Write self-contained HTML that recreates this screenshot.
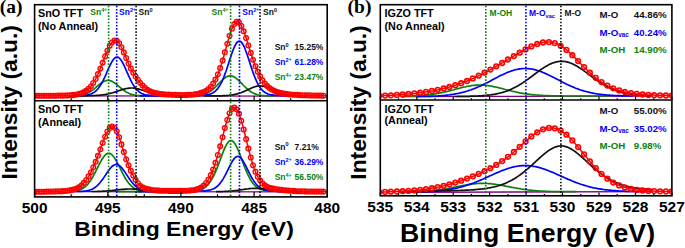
<!DOCTYPE html>
<html><head><meta charset="utf-8"><style>
html,body{margin:0;padding:0;background:#fff;}
body{width:685px;height:248px;overflow:hidden;}
svg{display:block;}
text{font-family:"Liberation Sans",sans-serif;font-weight:bold;}
</style></head><body>
<svg width="685" height="248" viewBox="0 0 685 248">
<clipPath id="ca1"><rect x="34.6" y="4.7" width="292.6" height="96.1"/></clipPath>
<g clip-path="url(#ca1)">
<line x1="72" y1="95.9" x2="302" y2="96.2" stroke="#800080" stroke-width="1.3"/>
<polyline points="72.7,95.8 73.7,95.7 74.7,95.7 75.7,95.6 76.7,95.6 77.7,95.5 78.7,95.4 79.7,95.3 80.7,95.1 81.7,94.9 82.7,94.7 83.7,94.5 84.7,94.2 85.7,93.8 86.7,93.4 87.7,93 88.7,92.5 89.7,91.9 90.7,91.3 91.7,90.7 92.7,89.9 93.7,89.2 94.7,88.4 95.7,87.6 96.7,86.7 97.7,85.9 98.7,85 99.7,84.2 100.7,83.4 101.7,82.7 102.8,82.1 103.8,81.5 104.8,81 105.8,80.7 106.8,80.5 107.8,80.4 108.8,80.4 109.8,80.6 110.8,80.9 111.8,81.3 112.8,81.8 113.8,82.4 114.8,83.1 115.8,83.8 116.8,84.6 117.8,85.5 118.8,86.3 119.8,87.2 120.8,88 121.8,88.8 122.8,89.6 123.8,90.4 124.8,91 125.8,91.7 126.8,92.3 127.8,92.8 128.8,93.3 129.8,93.7 130.8,94.1 131.8,94.4 132.8,94.6 133.8,94.9 134.8,95.1 135.8,95.2 136.8,95.4 137.8,95.5 138.8,95.6 139.8,95.7 140.8,95.7 141.8,95.8 142.8,95.8 143.8,95.8 144.8,95.9 145.8,95.9 146.8,95.9" fill="none" stroke="#0a820a" stroke-width="1.7"/>
<polyline points="185.9,96 186.9,95.9 187.9,95.9 188.9,95.9 189.9,95.9 190.9,95.9 191.9,95.9 193,95.8 194,95.8 195,95.7 196,95.7 197,95.6 198,95.5 199,95.4 200,95.2 201,95.1 202,94.9 203,94.6 204,94.3 205,94 206,93.6 207,93.2 208,92.7 209,92.1 210,91.5 211,90.8 212,90.1 213,89.3 214,88.4 215,87.5 216,86.5 217,85.5 218,84.4 219,83.4 220,82.4 221,81.3 222,80.4 223,79.4 224,78.6 225,77.8 226,77.1 227,76.6 228,76.2 229,75.9 230,75.8 231,75.8 232,76 233,76.4 234,76.8 235,77.4 236,78.2 237,79 238.1,79.9 239.1,80.8 240.1,81.8 241.1,82.9 242.1,83.9 243.1,85 244.1,86 245.1,87 246.1,87.9 247.1,88.8 248.1,89.7 249.1,90.5 250.1,91.2 251.1,91.9 252.1,92.4 253.1,93 254.1,93.4 255.1,93.9 256.1,94.2 257.1,94.5 258.1,94.8 259.1,95 260.1,95.2 261.1,95.4 262.1,95.5 263.1,95.6 264.1,95.7 265.1,95.8 266.1,95.8 267.1,95.9 268.1,95.9 269.1,96 270.1,96 271.1,96 272.1,96 273.1,96 274.1,96" fill="none" stroke="#0a820a" stroke-width="1.7"/>
<polyline points="72.7,95.7 73.7,95.7 74.7,95.6 75.7,95.6 76.7,95.6 77.7,95.6 78.7,95.6 79.7,95.5 80.7,95.5 81.7,95.5 82.7,95.4 83.7,95.3 84.7,95.2 85.7,95.1 86.7,95 87.7,94.8 88.7,94.6 89.7,94.3 90.7,94 91.7,93.6 92.7,93.1 93.7,92.6 94.7,91.9 95.7,91 96.7,90.1 97.7,89 98.7,87.7 99.7,86.3 100.7,84.7 101.7,83 102.8,81.1 103.8,79.1 104.8,77 105.8,74.8 106.8,72.5 107.8,70.2 108.8,68 109.8,65.8 110.8,63.8 111.8,61.9 112.8,60.3 113.8,59 114.8,57.9 115.8,57.3 116.8,57 117.8,57.1 118.8,57.6 119.8,58.5 120.8,59.7 121.8,61.2 122.8,63 123.8,64.9 124.8,67.1 125.8,69.3 126.8,71.6 127.8,73.8 128.8,76.1 129.8,78.2 130.8,80.3 131.8,82.3 132.8,84.1 133.8,85.7 134.8,87.2 135.8,88.5 136.8,89.7 137.8,90.7 138.8,91.6 139.8,92.3 140.8,92.9 141.8,93.5 142.8,93.9 143.8,94.3 144.8,94.6 145.8,94.8 146.8,95 147.9,95.1 148.9,95.3 149.9,95.4 150.9,95.4 151.9,95.5 152.9,95.6 153.9,95.6 154.9,95.6 155.9,95.7 156.9,95.7 157.9,95.7 158.9,95.7 159.9,95.7 160.9,95.8 161.9,95.8 162.9,95.8 163.9,95.8 164.9,95.8 165.9,95.8 166.9,95.8 167.9,95.8 168.9,95.8 169.9,95.8 170.9,95.9 171.9,95.9 172.9,95.9 173.9,95.9 174.9,95.9 175.9,95.9 176.9,95.9 177.9,95.9 178.9,95.9 179.9,95.9 180.9,95.9 181.9,95.9 182.9,95.9 183.9,95.9 184.9,95.9 185.9,95.9 186.9,95.9 187.9,95.9 188.9,96 189.9,96 190.9,96" fill="none" stroke="#0000ff" stroke-width="1.7"/>
<polyline points="139.8,95.9 140.8,95.9 141.8,95.9 142.8,95.9 143.8,95.9 144.8,95.9 145.8,95.9 146.8,95.9 147.9,95.9 148.9,95.9 149.9,95.9 150.9,95.9 151.9,95.9 152.9,95.9 153.9,95.9 154.9,95.9 155.9,95.9 156.9,95.9 157.9,95.9 158.9,95.9 159.9,95.9 160.9,95.9 161.9,95.9 162.9,95.9 163.9,95.9 164.9,95.9 165.9,95.9 166.9,95.8 167.9,95.8 168.9,95.8 169.9,95.8 170.9,95.8 171.9,95.8 172.9,95.8 173.9,95.8 174.9,95.8 175.9,95.8 176.9,95.8 177.9,95.8 178.9,95.8 179.9,95.8 180.9,95.8 181.9,95.8 182.9,95.7 183.9,95.7 184.9,95.7 185.9,95.7 186.9,95.7 187.9,95.7 188.9,95.7 189.9,95.7 190.9,95.7 191.9,95.6 193,95.6 194,95.6 195,95.6 196,95.6 197,95.5 198,95.5 199,95.5 200,95.4 201,95.4 202,95.3 203,95.3 204,95.2 205,95.1 206,94.9 207,94.8 208,94.6 209,94.4 210,94.1 211,93.7 212,93.3 213,92.7 214,92.1 215,91.3 216,90.4 217,89.4 218,88.1 219,86.7 220,85.1 221,83.3 222,81.3 223,79 224,76.6 225,73.9 226,71.2 227,68.2 228,65.2 229,62.1 230,59 231,56 232,53 233,50.3 234,47.8 235,45.6 236,43.8 237,42.4 238.1,41.5 239.1,41.1 240.1,41.3 241.1,41.9 242.1,43.1 243.1,44.7 244.1,46.7 245.1,49 246.1,51.7 247.1,54.5 248.1,57.5 249.1,60.6 250.1,63.7 251.1,66.8 252.1,69.8 253.1,72.6 254.1,75.3 255.1,77.9 256.1,80.2 257.1,82.4 258.1,84.3 259.1,86 260.1,87.5 261.1,88.8 262.1,90 263.1,91 264.1,91.8 265.1,92.5 266.1,93.1 267.1,93.6 268.1,94 269.1,94.3 270.1,94.6 271.1,94.8 272.1,94.9 273.1,95.1 274.1,95.2 275.1,95.3 276.1,95.4 277.1,95.4 278.1,95.5 279.1,95.5 280.1,95.6 281.1,95.6 282.1,95.6 283.2,95.7 284.2,95.7 285.2,95.7 286.2,95.7 287.2,95.7 288.2,95.8 289.2,95.8 290.2,95.8 291.2,95.8 292.2,95.8 293.2,95.8 294.2,95.8 295.2,95.9 296.2,95.9 297.2,95.9 298.2,95.9 299.2,95.9 300.2,95.9 301.2,95.9" fill="none" stroke="#0000ff" stroke-width="1.7"/>
<polyline points="76.7,95.8 77.7,95.8 78.7,95.8 79.7,95.8 80.7,95.8 81.7,95.8 82.7,95.8 83.7,95.8 84.7,95.8 85.7,95.8 86.7,95.8 87.7,95.8 88.7,95.7 89.7,95.7 90.7,95.7 91.7,95.7 92.7,95.6 93.7,95.6 94.7,95.5 95.7,95.5 96.7,95.4 97.7,95.4 98.7,95.3 99.7,95.2 100.7,95.1 101.7,95 102.8,94.8 103.8,94.7 104.8,94.5 105.8,94.4 106.8,94.2 107.8,94 108.8,93.7 109.8,93.5 110.8,93.2 111.8,93 112.8,92.7 113.8,92.4 114.8,92.1 115.8,91.7 116.8,91.4 117.8,91.1 118.8,90.7 119.8,90.4 120.8,90.1 121.8,89.7 122.8,89.4 123.8,89.2 124.8,88.9 125.8,88.7 126.8,88.5 127.8,88.3 128.8,88.2 129.8,88.1 130.8,88 131.8,88 132.8,88 133.8,88.1 134.8,88.2 135.8,88.4 136.8,88.6 137.8,88.8 138.8,89.1 139.8,89.4 140.8,89.7 141.8,90 142.8,90.3 143.8,90.6 144.8,91 145.8,91.3 146.8,91.6 147.9,92 148.9,92.3 149.9,92.6 150.9,92.9 151.9,93.2 152.9,93.4 153.9,93.7 154.9,93.9 155.9,94.1 156.9,94.3 157.9,94.5 158.9,94.7 159.9,94.9 160.9,95 161.9,95.1 162.9,95.2 163.9,95.3 164.9,95.4 165.9,95.5 166.9,95.5 167.9,95.6 168.9,95.6 169.9,95.7 170.9,95.7 171.9,95.8 172.9,95.8 173.9,95.8 174.9,95.8 175.9,95.9 176.9,95.9 177.9,95.9 178.9,95.9 179.9,95.9 180.9,95.9 181.9,95.9 182.9,95.9 183.9,95.9 184.9,95.9 185.9,96 186.9,96" fill="none" stroke="#111111" stroke-width="1.7"/>
<polyline points="204,96 205,96 206,96 207,96 208,96 209,96 210,95.9 211,95.9 212,95.9 213,95.9 214,95.9 215,95.9 216,95.9 217,95.9 218,95.9 219,95.9 220,95.8 221,95.8 222,95.8 223,95.7 224,95.7 225,95.7 226,95.6 227,95.5 228,95.5 229,95.4 230,95.2 231,95.1 232,95 233,94.8 234,94.6 235,94.4 236,94.2 237,93.9 238.1,93.7 239.1,93.3 240.1,93 241.1,92.7 242.1,92.3 243.1,91.9 244.1,91.4 245.1,91 246.1,90.5 247.1,90.1 248.1,89.6 249.1,89.1 250.1,88.7 251.1,88.2 252.1,87.8 253.1,87.4 254.1,87 255.1,86.7 256.1,86.4 257.1,86.2 258.1,86 259.1,86 260.1,85.9 261.1,86 262.1,86.1 263.1,86.3 264.1,86.5 265.1,86.8 266.1,87.1 267.1,87.5 268.1,87.9 269.1,88.3 270.1,88.8 271.1,89.2 272.1,89.7 273.1,90.2 274.1,90.6 275.1,91.1 276.1,91.6 277.1,92 278.1,92.4 279.1,92.8 280.1,93.1 281.1,93.5 282.1,93.8 283.2,94 284.2,94.3 285.2,94.5 286.2,94.7 287.2,94.9 288.2,95.1 289.2,95.2 290.2,95.3 291.2,95.4 292.2,95.5 293.2,95.6 294.2,95.7 295.2,95.7 296.2,95.8 297.2,95.8 298.2,95.9 299.2,95.9 300.2,95.9 301.2,95.9" fill="none" stroke="#111111" stroke-width="1.7"/>
<polyline points="34.6,95.7 35.6,95.7 36.6,95.7 37.6,95.7 38.6,95.7 39.6,95.7 40.6,95.7 41.6,95.7 42.6,95.7 43.6,95.7 44.6,95.7 45.6,95.7 46.6,95.7 47.6,95.7 48.6,95.7 49.6,95.7 50.6,95.7 51.6,95.7 52.6,95.7 53.6,95.7 54.6,95.7 55.6,95.7 56.6,95.7 57.7,95.7 58.7,95.6 59.7,95.6 60.7,95.6 61.7,95.6 62.7,95.6 63.7,95.6 64.7,95.5 65.7,95.5 66.7,95.5 67.7,95.4 68.7,95.4 69.7,95.3 70.7,95.3 71.7,95.2 72.7,95.1 73.7,95 74.7,94.8 75.7,94.7 76.7,94.5 77.7,94.3 78.7,94.1 79.7,93.8 80.7,93.5 81.7,93.1 82.7,92.7 83.7,92.2 84.7,91.6 85.7,91 86.7,90.3 87.7,89.5 88.7,88.6 89.7,87.6 90.7,86.5 91.7,85.2 92.7,83.8 93.7,82.3 94.7,80.6 95.7,78.8 96.7,76.8 97.7,74.7 98.7,72.5 99.7,70.1 100.7,67.6 101.7,65.1 102.8,62.5 103.8,59.8 104.8,57.2 105.8,54.6 106.8,52.1 107.8,49.8 108.8,47.6 109.8,45.7 110.8,44 111.8,42.6 112.8,41.5 113.8,40.8 114.8,40.5 115.8,40.5 116.8,40.9 117.8,41.7 118.8,42.8 119.8,44.2 120.8,45.9 121.8,47.8 122.8,50 123.8,52.2 124.8,54.6 125.8,57 126.8,59.4 127.8,61.8 128.8,64.1 129.8,66.2 130.8,68.3 131.8,70.2 132.8,72 133.8,73.7 134.8,75.3 135.8,76.8 136.8,78.3 137.8,79.7 138.8,81 139.8,82.3 140.8,83.6 141.8,84.7 142.8,85.8 143.8,86.8 144.8,87.8 145.8,88.6 146.8,89.4 147.9,90 148.9,90.6 149.9,91.1 150.9,91.6 151.9,92 152.9,92.3 153.9,92.6 154.9,92.9 155.9,93.2 156.9,93.4 157.9,93.5 158.9,93.7 159.9,93.9 160.9,94 161.9,94.1 162.9,94.2 163.9,94.3 164.9,94.4 165.9,94.5 166.9,94.5 167.9,94.6 168.9,94.7 169.9,94.7 170.9,94.7 171.9,94.8 172.9,94.8 173.9,94.9 174.9,94.9 175.9,94.9 176.9,94.9 177.9,95 178.9,95 179.9,95 180.9,95 181.9,95 182.9,95 183.9,95 184.9,95 185.9,95 186.9,94.9 187.9,94.9 188.9,94.9 189.9,94.8 190.9,94.7 191.9,94.7 193,94.6 194,94.5 195,94.3 196,94.2 197,94 198,93.8 199,93.6 200,93.3 201,93 202,92.7 203,92.3 204,91.9 205,91.3 206,90.8 207,90.1 208,89.4 209,88.5 210,87.6 211,86.5 212,85.3 213,83.9 214,82.3 215,80.6 216,78.6 217,76.4 218,74.1 219,71.5 220,68.6 221,65.6 222,62.4 223,59 224,55.5 225,51.9 226,48.2 227,44.6 228,41 229,37.5 230,34.3 231,31.3 232,28.6 233,26.3 234,24.5 235,23.1 236,22.2 237,21.8 238.1,21.9 239.1,22.6 240.1,23.7 241.1,25.3 242.1,27.3 243.1,29.6 244.1,32.2 245.1,35.1 246.1,38.1 247.1,41.3 248.1,44.4 249.1,47.6 250.1,50.8 251.1,53.9 252.1,56.9 253.1,59.8 254.1,62.6 255.1,65.2 256.1,67.7 257.1,70.1 258.1,72.4 259.1,74.5 260.1,76.4 261.1,78.2 262.1,79.8 263.1,81.3 264.1,82.7 265.1,83.9 266.1,85.1 267.1,86.1 268.1,87 269.1,87.8 270.1,88.5 271.1,89.2 272.1,89.8 273.1,90.3 274.1,90.8 275.1,91.2 276.1,91.6 277.1,92 278.1,92.3 279.1,92.6 280.1,92.8 281.1,93.1 282.1,93.3 283.2,93.5 284.2,93.6 285.2,93.8 286.2,93.9 287.2,94.1 288.2,94.2 289.2,94.3 290.2,94.4 291.2,94.5 292.2,94.6 293.2,94.7 294.2,94.7 295.2,94.8 296.2,94.9 297.2,94.9 298.2,95 299.2,95 300.2,95.1 301.2,95.1 302.2,95.2 303.2,95.2 304.2,95.2 305.2,95.3 306.2,95.3 307.2,95.3 308.2,95.4 309.2,95.4 310.2,95.4 311.2,95.4 312.2,95.5 313.2,95.5 314.2,95.5 315.2,95.5 316.2,95.5 317.2,95.6 318.2,95.6 319.2,95.6 320.2,95.6 321.2,95.6 322.2,95.7 323.2,95.7 324.2,95.7 325.2,95.7 326.2,95.7 327.2,95.7" fill="none" stroke="#ff0000" stroke-width="1.5"/>
<path d="M32.2,95.7a2.35,2.35 0 1,0 4.7,0a2.35,2.35 0 1,0 -4.7,0M34.5,95.7a2.35,2.35 0 1,0 4.7,0a2.35,2.35 0 1,0 -4.7,0M36.9,95.7a2.35,2.35 0 1,0 4.7,0a2.35,2.35 0 1,0 -4.7,0M39.2,95.7a2.35,2.35 0 1,0 4.7,0a2.35,2.35 0 1,0 -4.7,0M41.6,95.7a2.35,2.35 0 1,0 4.7,0a2.35,2.35 0 1,0 -4.7,0M44,95.7a2.35,2.35 0 1,0 4.7,0a2.35,2.35 0 1,0 -4.7,0M46.3,95.7a2.35,2.35 0 1,0 4.7,0a2.35,2.35 0 1,0 -4.7,0M48.7,95.7a2.35,2.35 0 1,0 4.7,0a2.35,2.35 0 1,0 -4.7,0M51,95.7a2.35,2.35 0 1,0 4.7,0a2.35,2.35 0 1,0 -4.7,0M53.4,95.7a2.35,2.35 0 1,0 4.7,0a2.35,2.35 0 1,0 -4.7,0M55.7,95.6a2.35,2.35 0 1,0 4.7,0a2.35,2.35 0 1,0 -4.7,0M58.1,95.6a2.35,2.35 0 1,0 4.7,0a2.35,2.35 0 1,0 -4.7,0M60.4,95.6a2.35,2.35 0 1,0 4.7,0a2.35,2.35 0 1,0 -4.7,0M62.8,95.5a2.35,2.35 0 1,0 4.7,0a2.35,2.35 0 1,0 -4.7,0M65.1,95.4a2.35,2.35 0 1,0 4.7,0a2.35,2.35 0 1,0 -4.7,0M67.5,95.3a2.35,2.35 0 1,0 4.7,0a2.35,2.35 0 1,0 -4.7,0M69.8,95.1a2.35,2.35 0 1,0 4.7,0a2.35,2.35 0 1,0 -4.7,0M72.1,94.9a2.35,2.35 0 1,0 4.7,0a2.35,2.35 0 1,0 -4.7,0M74.5,94.5a2.35,2.35 0 1,0 4.7,0a2.35,2.35 0 1,0 -4.7,0M76.8,93.9a2.35,2.35 0 1,0 4.7,0a2.35,2.35 0 1,0 -4.7,0M79.2,93.1a2.35,2.35 0 1,0 4.7,0a2.35,2.35 0 1,0 -4.7,0M81.5,92.1a2.35,2.35 0 1,0 4.7,0a2.35,2.35 0 1,0 -4.7,0M83.9,90.6a2.35,2.35 0 1,0 4.7,0a2.35,2.35 0 1,0 -4.7,0M86.2,88.7a2.35,2.35 0 1,0 4.7,0a2.35,2.35 0 1,0 -4.7,0M88.6,86.2a2.35,2.35 0 1,0 4.7,0a2.35,2.35 0 1,0 -4.7,0M90.9,83a2.35,2.35 0 1,0 4.7,0a2.35,2.35 0 1,0 -4.7,0M93.3,79a2.35,2.35 0 1,0 4.7,0a2.35,2.35 0 1,0 -4.7,0M95.6,74.1a2.35,2.35 0 1,0 4.7,0a2.35,2.35 0 1,0 -4.7,0M98,68.6a2.35,2.35 0 1,0 4.7,0a2.35,2.35 0 1,0 -4.7,0M100.3,62.6a2.35,2.35 0 1,0 4.7,0a2.35,2.35 0 1,0 -4.7,0M102.7,56.4a2.35,2.35 0 1,0 4.7,0a2.35,2.35 0 1,0 -4.7,0M105,50.6a2.35,2.35 0 1,0 4.7,0a2.35,2.35 0 1,0 -4.7,0M107.4,45.7a2.35,2.35 0 1,0 4.7,0a2.35,2.35 0 1,0 -4.7,0M109.7,42.2a2.35,2.35 0 1,0 4.7,0a2.35,2.35 0 1,0 -4.7,0M112.1,40.5a2.35,2.35 0 1,0 4.7,0a2.35,2.35 0 1,0 -4.7,0M114.4,40.9a2.35,2.35 0 1,0 4.7,0a2.35,2.35 0 1,0 -4.7,0M116.8,43.3a2.35,2.35 0 1,0 4.7,0a2.35,2.35 0 1,0 -4.7,0M119.1,47.2a2.35,2.35 0 1,0 4.7,0a2.35,2.35 0 1,0 -4.7,0M121.5,52.4a2.35,2.35 0 1,0 4.7,0a2.35,2.35 0 1,0 -4.7,0M123.8,58a2.35,2.35 0 1,0 4.7,0a2.35,2.35 0 1,0 -4.7,0M126.2,63.5a2.35,2.35 0 1,0 4.7,0a2.35,2.35 0 1,0 -4.7,0M128.5,68.5a2.35,2.35 0 1,0 4.7,0a2.35,2.35 0 1,0 -4.7,0M130.9,72.8a2.35,2.35 0 1,0 4.7,0a2.35,2.35 0 1,0 -4.7,0M133.2,76.5a2.35,2.35 0 1,0 4.7,0a2.35,2.35 0 1,0 -4.7,0M135.6,79.8a2.35,2.35 0 1,0 4.7,0a2.35,2.35 0 1,0 -4.7,0M137.9,82.9a2.35,2.35 0 1,0 4.7,0a2.35,2.35 0 1,0 -4.7,0M140.3,85.6a2.35,2.35 0 1,0 4.7,0a2.35,2.35 0 1,0 -4.7,0M142.6,87.9a2.35,2.35 0 1,0 4.7,0a2.35,2.35 0 1,0 -4.7,0M145,89.7a2.35,2.35 0 1,0 4.7,0a2.35,2.35 0 1,0 -4.7,0M147.3,91a2.35,2.35 0 1,0 4.7,0a2.35,2.35 0 1,0 -4.7,0M149.7,92.1a2.35,2.35 0 1,0 4.7,0a2.35,2.35 0 1,0 -4.7,0M152,92.8a2.35,2.35 0 1,0 4.7,0a2.35,2.35 0 1,0 -4.7,0M154.4,93.3a2.35,2.35 0 1,0 4.7,0a2.35,2.35 0 1,0 -4.7,0M156.7,93.7a2.35,2.35 0 1,0 4.7,0a2.35,2.35 0 1,0 -4.7,0M159.1,94.1a2.35,2.35 0 1,0 4.7,0a2.35,2.35 0 1,0 -4.7,0M161.4,94.3a2.35,2.35 0 1,0 4.7,0a2.35,2.35 0 1,0 -4.7,0M163.8,94.5a2.35,2.35 0 1,0 4.7,0a2.35,2.35 0 1,0 -4.7,0M166.1,94.6a2.35,2.35 0 1,0 4.7,0a2.35,2.35 0 1,0 -4.7,0M168.5,94.7a2.35,2.35 0 1,0 4.7,0a2.35,2.35 0 1,0 -4.7,0M170.8,94.8a2.35,2.35 0 1,0 4.7,0a2.35,2.35 0 1,0 -4.7,0M173.2,94.9a2.35,2.35 0 1,0 4.7,0a2.35,2.35 0 1,0 -4.7,0M175.5,95a2.35,2.35 0 1,0 4.7,0a2.35,2.35 0 1,0 -4.7,0M177.9,95a2.35,2.35 0 1,0 4.7,0a2.35,2.35 0 1,0 -4.7,0M180.2,95a2.35,2.35 0 1,0 4.7,0a2.35,2.35 0 1,0 -4.7,0M182.6,95a2.35,2.35 0 1,0 4.7,0a2.35,2.35 0 1,0 -4.7,0M184.9,94.9a2.35,2.35 0 1,0 4.7,0a2.35,2.35 0 1,0 -4.7,0M187.3,94.8a2.35,2.35 0 1,0 4.7,0a2.35,2.35 0 1,0 -4.7,0M189.6,94.7a2.35,2.35 0 1,0 4.7,0a2.35,2.35 0 1,0 -4.7,0M192,94.4a2.35,2.35 0 1,0 4.7,0a2.35,2.35 0 1,0 -4.7,0M194.3,94.1a2.35,2.35 0 1,0 4.7,0a2.35,2.35 0 1,0 -4.7,0M196.7,93.6a2.35,2.35 0 1,0 4.7,0a2.35,2.35 0 1,0 -4.7,0M199,92.9a2.35,2.35 0 1,0 4.7,0a2.35,2.35 0 1,0 -4.7,0M201.4,92a2.35,2.35 0 1,0 4.7,0a2.35,2.35 0 1,0 -4.7,0M203.7,90.7a2.35,2.35 0 1,0 4.7,0a2.35,2.35 0 1,0 -4.7,0M206.1,89a2.35,2.35 0 1,0 4.7,0a2.35,2.35 0 1,0 -4.7,0M208.4,86.7a2.35,2.35 0 1,0 4.7,0a2.35,2.35 0 1,0 -4.7,0M210.8,83.6a2.35,2.35 0 1,0 4.7,0a2.35,2.35 0 1,0 -4.7,0M213.1,79.6a2.35,2.35 0 1,0 4.7,0a2.35,2.35 0 1,0 -4.7,0M215.5,74.4a2.35,2.35 0 1,0 4.7,0a2.35,2.35 0 1,0 -4.7,0M217.8,68.1a2.35,2.35 0 1,0 4.7,0a2.35,2.35 0 1,0 -4.7,0M220.2,60.6a2.35,2.35 0 1,0 4.7,0a2.35,2.35 0 1,0 -4.7,0M222.5,52.3a2.35,2.35 0 1,0 4.7,0a2.35,2.35 0 1,0 -4.7,0M224.9,43.8a2.35,2.35 0 1,0 4.7,0a2.35,2.35 0 1,0 -4.7,0M227.2,35.7a2.35,2.35 0 1,0 4.7,0a2.35,2.35 0 1,0 -4.7,0M229.6,28.8a2.35,2.35 0 1,0 4.7,0a2.35,2.35 0 1,0 -4.7,0M231.9,24.1a2.35,2.35 0 1,0 4.7,0a2.35,2.35 0 1,0 -4.7,0M234.3,21.9a2.35,2.35 0 1,0 4.7,0a2.35,2.35 0 1,0 -4.7,0M236.6,22.5a2.35,2.35 0 1,0 4.7,0a2.35,2.35 0 1,0 -4.7,0M239,25.8a2.35,2.35 0 1,0 4.7,0a2.35,2.35 0 1,0 -4.7,0M241.3,31.3a2.35,2.35 0 1,0 4.7,0a2.35,2.35 0 1,0 -4.7,0M243.7,38.1a2.35,2.35 0 1,0 4.7,0a2.35,2.35 0 1,0 -4.7,0M246,45.5a2.35,2.35 0 1,0 4.7,0a2.35,2.35 0 1,0 -4.7,0M248.4,52.9a2.35,2.35 0 1,0 4.7,0a2.35,2.35 0 1,0 -4.7,0M250.7,59.8a2.35,2.35 0 1,0 4.7,0a2.35,2.35 0 1,0 -4.7,0M253.1,66.2a2.35,2.35 0 1,0 4.7,0a2.35,2.35 0 1,0 -4.7,0M255.4,71.7a2.35,2.35 0 1,0 4.7,0a2.35,2.35 0 1,0 -4.7,0M257.8,76.5a2.35,2.35 0 1,0 4.7,0a2.35,2.35 0 1,0 -4.7,0M260.1,80.4a2.35,2.35 0 1,0 4.7,0a2.35,2.35 0 1,0 -4.7,0M262.5,83.6a2.35,2.35 0 1,0 4.7,0a2.35,2.35 0 1,0 -4.7,0M264.8,86.1a2.35,2.35 0 1,0 4.7,0a2.35,2.35 0 1,0 -4.7,0M267.2,88.1a2.35,2.35 0 1,0 4.7,0a2.35,2.35 0 1,0 -4.7,0M269.5,89.6a2.35,2.35 0 1,0 4.7,0a2.35,2.35 0 1,0 -4.7,0M271.9,90.8a2.35,2.35 0 1,0 4.7,0a2.35,2.35 0 1,0 -4.7,0M274.2,91.8a2.35,2.35 0 1,0 4.7,0a2.35,2.35 0 1,0 -4.7,0M276.6,92.5a2.35,2.35 0 1,0 4.7,0a2.35,2.35 0 1,0 -4.7,0M278.9,93.1a2.35,2.35 0 1,0 4.7,0a2.35,2.35 0 1,0 -4.7,0M281.3,93.6a2.35,2.35 0 1,0 4.7,0a2.35,2.35 0 1,0 -4.7,0M283.6,93.9a2.35,2.35 0 1,0 4.7,0a2.35,2.35 0 1,0 -4.7,0M286,94.2a2.35,2.35 0 1,0 4.7,0a2.35,2.35 0 1,0 -4.7,0M288.3,94.5a2.35,2.35 0 1,0 4.7,0a2.35,2.35 0 1,0 -4.7,0M290.7,94.7a2.35,2.35 0 1,0 4.7,0a2.35,2.35 0 1,0 -4.7,0M293,94.8a2.35,2.35 0 1,0 4.7,0a2.35,2.35 0 1,0 -4.7,0M295.4,94.9a2.35,2.35 0 1,0 4.7,0a2.35,2.35 0 1,0 -4.7,0M297.7,95.1a2.35,2.35 0 1,0 4.7,0a2.35,2.35 0 1,0 -4.7,0M300.1,95.2a2.35,2.35 0 1,0 4.7,0a2.35,2.35 0 1,0 -4.7,0M302.4,95.2a2.35,2.35 0 1,0 4.7,0a2.35,2.35 0 1,0 -4.7,0M304.8,95.3a2.35,2.35 0 1,0 4.7,0a2.35,2.35 0 1,0 -4.7,0M307.2,95.4a2.35,2.35 0 1,0 4.7,0a2.35,2.35 0 1,0 -4.7,0M309.5,95.5a2.35,2.35 0 1,0 4.7,0a2.35,2.35 0 1,0 -4.7,0M311.9,95.5a2.35,2.35 0 1,0 4.7,0a2.35,2.35 0 1,0 -4.7,0M314.2,95.6a2.35,2.35 0 1,0 4.7,0a2.35,2.35 0 1,0 -4.7,0M316.6,95.6a2.35,2.35 0 1,0 4.7,0a2.35,2.35 0 1,0 -4.7,0M318.9,95.6a2.35,2.35 0 1,0 4.7,0a2.35,2.35 0 1,0 -4.7,0M321.3,95.7a2.35,2.35 0 1,0 4.7,0a2.35,2.35 0 1,0 -4.7,0" fill="none" stroke="#ff0000" stroke-width="1.4"/>
</g>
<clipPath id="ca2"><rect x="34.6" y="100.8" width="292.6" height="96.1"/></clipPath>
<g clip-path="url(#ca2)">
<line x1="72" y1="191.6" x2="302" y2="191.9" stroke="#800080" stroke-width="1.3"/>
<polyline points="72.7,191.1 73.7,191 74.7,190.9 75.7,190.8 76.7,190.6 77.7,190.4 78.7,190.1 79.7,189.8 80.7,189.4 81.7,189 82.7,188.4 83.7,187.8 84.7,187.1 85.7,186.3 86.7,185.3 87.7,184.3 88.7,183.1 89.7,181.7 90.7,180.3 91.7,178.7 92.7,177 93.7,175.2 94.7,173.4 95.7,171.4 96.7,169.4 97.7,167.4 98.7,165.4 99.7,163.4 100.7,161.6 101.7,159.8 102.8,158.2 103.8,156.7 104.8,155.5 105.8,154.5 106.8,153.8 107.8,153.4 108.8,153.3 109.8,153.4 110.8,153.9 111.8,154.7 112.8,155.7 113.8,156.9 114.8,158.4 115.8,160 116.8,161.8 117.8,163.7 118.8,165.7 119.8,167.7 120.8,169.7 121.8,171.7 122.8,173.6 123.8,175.5 124.8,177.3 125.8,179 126.8,180.5 127.8,182 128.8,183.3 129.8,184.4 130.8,185.5 131.8,186.4 132.8,187.2 133.8,188 134.8,188.6 135.8,189.1 136.8,189.5 137.8,189.9 138.8,190.2 139.8,190.5 140.8,190.7 141.8,190.9 142.8,191 143.8,191.1 144.8,191.2 145.8,191.3 146.8,191.4 147.9,191.4 148.9,191.4 149.9,191.5 150.9,191.5 151.9,191.5 152.9,191.5 153.9,191.5 154.9,191.6 155.9,191.6 156.9,191.6 157.9,191.6 158.9,191.6 159.9,191.6 160.9,191.6 161.9,191.6 162.9,191.6 163.9,191.6 164.9,191.6 165.9,191.6" fill="none" stroke="#0a820a" stroke-width="1.7"/>
<polyline points="117.8,191.6 118.8,191.6 119.8,191.6 120.8,191.6 121.8,191.6 122.8,191.6 123.8,191.6 124.8,191.6 125.8,191.6 126.8,191.6 127.8,191.6 128.8,191.6 129.8,191.6 130.8,191.6 131.8,191.6 132.8,191.6 133.8,191.6 134.8,191.6 135.8,191.6 136.8,191.6 137.8,191.6 138.8,191.6 139.8,191.6 140.8,191.6 141.8,191.5 142.8,191.5 143.8,191.5 144.8,191.5 145.8,191.5 146.8,191.5 147.9,191.5 148.9,191.5 149.9,191.5 150.9,191.5 151.9,191.5 152.9,191.5 153.9,191.5 154.9,191.5 155.9,191.5 156.9,191.5 157.9,191.5 158.9,191.5 159.9,191.5 160.9,191.5 161.9,191.5 162.9,191.5 163.9,191.5 164.9,191.4 165.9,191.4 166.9,191.4 167.9,191.4 168.9,191.4 169.9,191.4 170.9,191.4 171.9,191.4 172.9,191.4 173.9,191.4 174.9,191.3 175.9,191.3 176.9,191.3 177.9,191.3 178.9,191.3 179.9,191.3 180.9,191.3 181.9,191.2 182.9,191.2 183.9,191.2 184.9,191.2 185.9,191.1 186.9,191.1 187.9,191.1 188.9,191 189.9,191 190.9,190.9 191.9,190.9 193,190.8 194,190.7 195,190.6 196,190.5 197,190.3 198,190.2 199,189.9 200,189.7 201,189.3 202,188.9 203,188.5 204,187.9 205,187.3 206,186.5 207,185.6 208,184.6 209,183.4 210,182.1 211,180.6 212,178.9 213,177.1 214,175.1 215,172.9 216,170.6 217,168.2 218,165.6 219,163 220,160.3 221,157.6 222,154.9 223,152.3 224,149.9 225,147.6 226,145.6 227,143.8 228,142.4 229,141.4 230,140.7 231,140.5 232,140.7 233,141.4 234,142.5 235,143.9 236,145.7 237,147.7 238.1,150 239.1,152.4 240.1,155 241.1,157.7 242.1,160.4 243.1,163.1 244.1,165.7 245.1,168.3 246.1,170.7 247.1,173 248.1,175.2 249.1,177.2 250.1,179 251.1,180.7 252.1,182.2 253.1,183.5 254.1,184.7 255.1,185.7 256.1,186.6 257.1,187.3 258.1,188 259.1,188.5 260.1,189 261.1,189.4 262.1,189.7 263.1,190 264.1,190.2 265.1,190.4 266.1,190.6 267.1,190.7 268.1,190.8 269.1,190.9 270.1,191 271.1,191 272.1,191.1 273.1,191.1 274.1,191.2 275.1,191.2 276.1,191.2 277.1,191.3 278.1,191.3 279.1,191.3 280.1,191.3 281.1,191.4 282.1,191.4 283.2,191.4 284.2,191.4 285.2,191.4 286.2,191.4 287.2,191.5 288.2,191.5 289.2,191.5 290.2,191.5 291.2,191.5 292.2,191.5 293.2,191.5 294.2,191.6 295.2,191.6 296.2,191.6 297.2,191.6 298.2,191.6 299.2,191.6 300.2,191.6 301.2,191.6" fill="none" stroke="#0a820a" stroke-width="1.7"/>
<polyline points="72.7,191.5 73.7,191.5 74.7,191.5 75.7,191.5 76.7,191.5 77.7,191.5 78.7,191.4 79.7,191.4 80.7,191.4 81.7,191.3 82.7,191.3 83.7,191.2 84.7,191.1 85.7,191 86.7,190.8 87.7,190.6 88.7,190.4 89.7,190.1 90.7,189.8 91.7,189.4 92.7,188.9 93.7,188.3 94.7,187.7 95.7,186.9 96.7,186.1 97.7,185.2 98.7,184.1 99.7,183 100.7,181.8 101.7,180.5 102.8,179.1 103.8,177.6 104.8,176.1 105.8,174.6 106.8,173.1 107.8,171.7 108.8,170.2 109.8,168.9 110.8,167.7 111.8,166.7 112.8,165.8 113.8,165.2 114.8,164.7 115.8,164.5 116.8,164.5 117.8,164.8 118.8,165.3 119.8,166 120.8,166.9 121.8,167.9 122.8,169.2 123.8,170.5 124.8,171.9 125.8,173.4 126.8,174.9 127.8,176.4 128.8,177.9 129.8,179.3 130.8,180.7 131.8,182 132.8,183.2 133.8,184.4 134.8,185.4 135.8,186.3 136.8,187.1 137.8,187.8 138.8,188.5 139.8,189 140.8,189.5 141.8,189.9 142.8,190.2 143.8,190.5 144.8,190.7 145.8,190.9 146.8,191 147.9,191.2 148.9,191.3 149.9,191.3 150.9,191.4 151.9,191.5 152.9,191.5 153.9,191.5 154.9,191.5 155.9,191.6 156.9,191.6 157.9,191.6 158.9,191.6 159.9,191.6 160.9,191.6 161.9,191.6" fill="none" stroke="#0000ff" stroke-width="1.7"/>
<polyline points="137.8,191.6 138.8,191.6 139.8,191.6 140.8,191.6 141.8,191.6 142.8,191.6 143.8,191.6 144.8,191.6 145.8,191.6 146.8,191.6 147.9,191.6 148.9,191.6 149.9,191.6 150.9,191.6 151.9,191.6 152.9,191.6 153.9,191.6 154.9,191.6 155.9,191.6 156.9,191.6 157.9,191.6 158.9,191.6 159.9,191.6 160.9,191.6 161.9,191.6 162.9,191.6 163.9,191.6 164.9,191.5 165.9,191.5 166.9,191.5 167.9,191.5 168.9,191.5 169.9,191.5 170.9,191.5 171.9,191.5 172.9,191.5 173.9,191.5 174.9,191.5 175.9,191.5 176.9,191.5 177.9,191.5 178.9,191.5 179.9,191.5 180.9,191.4 181.9,191.4 182.9,191.4 183.9,191.4 184.9,191.4 185.9,191.4 186.9,191.4 187.9,191.4 188.9,191.4 189.9,191.3 190.9,191.3 191.9,191.3 193,191.3 194,191.3 195,191.2 196,191.2 197,191.2 198,191.2 199,191.1 200,191.1 201,191 202,191 203,190.9 204,190.9 205,190.8 206,190.7 207,190.6 208,190.4 209,190.2 210,190 211,189.7 212,189.4 213,189 214,188.5 215,187.9 216,187.3 217,186.5 218,185.6 219,184.6 220,183.4 221,182.1 222,180.7 223,179.1 224,177.4 225,175.6 226,173.7 227,171.7 228,169.7 229,167.6 230,165.6 231,163.7 232,161.9 233,160.3 234,158.9 235,157.8 236,157 237,156.5 238.1,156.4 239.1,156.7 240.1,157.3 241.1,158.3 242.1,159.6 243.1,161.1 244.1,162.8 245.1,164.7 246.1,166.6 247.1,168.7 248.1,170.7 249.1,172.7 250.1,174.7 251.1,176.5 252.1,178.3 253.1,179.9 254.1,181.4 255.1,182.8 256.1,184 257.1,185.1 258.1,186.1 259.1,186.9 260.1,187.7 261.1,188.3 262.1,188.8 263.1,189.2 264.1,189.6 265.1,189.9 266.1,190.2 267.1,190.4 268.1,190.5 269.1,190.7 270.1,190.8 271.1,190.9 272.1,191 273.1,191 274.1,191.1 275.1,191.1 276.1,191.2 277.1,191.2 278.1,191.3 279.1,191.3 280.1,191.3 281.1,191.3 282.1,191.4 283.2,191.4 284.2,191.4 285.2,191.4 286.2,191.4 287.2,191.5 288.2,191.5 289.2,191.5 290.2,191.5 291.2,191.5 292.2,191.5 293.2,191.5 294.2,191.6 295.2,191.6 296.2,191.6 297.2,191.6 298.2,191.6 299.2,191.6 300.2,191.6 301.2,191.6" fill="none" stroke="#0000ff" stroke-width="1.7"/>
<polyline points="91.7,191.6 92.7,191.5 93.7,191.5 94.7,191.5 95.7,191.5 96.7,191.5 97.7,191.4 98.7,191.4 99.7,191.4 100.7,191.3 101.7,191.3 102.8,191.2 103.8,191.2 104.8,191.1 105.8,191 106.8,191 107.8,190.9 108.8,190.8 109.8,190.7 110.8,190.6 111.8,190.5 112.8,190.4 113.8,190.3 114.8,190.2 115.8,190.1 116.8,190 117.8,189.8 118.8,189.7 119.8,189.6 120.8,189.5 121.8,189.4 122.8,189.3 123.8,189.3 124.8,189.2 125.8,189.1 126.8,189.1 127.8,189 128.8,189 129.8,189 130.8,189 131.8,189 132.8,189.1 133.8,189.1 134.8,189.2 135.8,189.2 136.8,189.3 137.8,189.4 138.8,189.5 139.8,189.6 140.8,189.7 141.8,189.8 142.8,189.9 143.8,190.1 144.8,190.2 145.8,190.3 146.8,190.4 147.9,190.5 148.9,190.6 149.9,190.7 150.9,190.8 151.9,190.9 152.9,191 153.9,191.1 154.9,191.1 155.9,191.2 156.9,191.3 157.9,191.3 158.9,191.4 159.9,191.4 160.9,191.5 161.9,191.5 162.9,191.5 163.9,191.6 164.9,191.6 165.9,191.6 166.9,191.6 167.9,191.6" fill="none" stroke="#111111" stroke-width="1.7"/>
<polyline points="216,191.7 217,191.7 218,191.7 219,191.6 220,191.6 221,191.6 222,191.6 223,191.5 224,191.5 225,191.4 226,191.4 227,191.3 228,191.3 229,191.2 230,191.1 231,191.1 232,191 233,190.9 234,190.8 235,190.6 236,190.5 237,190.4 238.1,190.3 239.1,190.1 240.1,190 241.1,189.8 242.1,189.7 243.1,189.5 244.1,189.4 245.1,189.2 246.1,189.1 247.1,189 248.1,188.9 249.1,188.7 250.1,188.6 251.1,188.5 252.1,188.5 253.1,188.4 254.1,188.4 255.1,188.3 256.1,188.3 257.1,188.3 258.1,188.4 259.1,188.4 260.1,188.5 261.1,188.6 262.1,188.7 263.1,188.8 264.1,188.9 265.1,189 266.1,189.2 267.1,189.3 268.1,189.4 269.1,189.6 270.1,189.7 271.1,189.9 272.1,190 273.1,190.2 274.1,190.3 275.1,190.5 276.1,190.6 277.1,190.7 278.1,190.8 279.1,190.9 280.1,191 281.1,191.1 282.1,191.2 283.2,191.3 284.2,191.3 285.2,191.4 286.2,191.5 287.2,191.5 288.2,191.6 289.2,191.6 290.2,191.6 291.2,191.7 292.2,191.7 293.2,191.7 294.2,191.7 295.2,191.8 296.2,191.8" fill="none" stroke="#111111" stroke-width="1.7"/>
<polyline points="34.6,191.8 35.6,191.8 36.6,191.8 37.6,191.7 38.6,191.7 39.6,191.7 40.6,191.7 41.6,191.7 42.6,191.7 43.6,191.7 44.6,191.6 45.6,191.6 46.6,191.6 47.6,191.6 48.6,191.6 49.6,191.6 50.6,191.5 51.6,191.5 52.6,191.5 53.6,191.5 54.6,191.4 55.6,191.4 56.6,191.4 57.7,191.4 58.7,191.3 59.7,191.3 60.7,191.2 61.7,191.2 62.7,191.1 63.7,191.1 64.7,191 65.7,190.9 66.7,190.8 67.7,190.7 68.7,190.6 69.7,190.4 70.7,190.2 71.7,190 72.7,189.8 73.7,189.5 74.7,189.2 75.7,188.8 76.7,188.4 77.7,187.9 78.7,187.3 79.7,186.7 80.7,185.9 81.7,185.1 82.7,184.2 83.7,183.1 84.7,182 85.7,180.7 86.7,179.4 87.7,177.9 88.7,176.2 89.7,174.5 90.7,172.6 91.7,170.7 92.7,168.6 93.7,166.3 94.7,164 95.7,161.6 96.7,159.1 97.7,156.5 98.7,153.8 99.7,151 100.7,148.3 101.7,145.5 102.8,142.7 103.8,140 104.8,137.4 105.8,135 106.8,132.8 107.8,130.8 108.8,129.2 109.8,127.9 110.8,127 111.8,126.5 112.8,126.6 113.8,127 114.8,128 115.8,129.4 116.8,131.3 117.8,133.5 118.8,136.1 119.8,139 120.8,142.1 121.8,145.4 122.8,148.7 123.8,151.9 124.8,155.1 125.8,158.1 126.8,160.9 127.8,163.6 128.8,166 129.8,168.3 130.8,170.5 131.8,172.6 132.8,174.6 133.8,176.6 134.8,178.5 135.8,180.2 136.8,181.7 137.8,183.1 138.8,184.2 139.8,185.3 140.8,186.1 141.8,186.8 142.8,187.4 143.8,187.9 144.8,188.4 145.8,188.7 146.8,189 147.9,189.3 148.9,189.5 149.9,189.7 150.9,189.8 151.9,190 152.9,190.1 153.9,190.2 154.9,190.3 155.9,190.4 156.9,190.4 157.9,190.5 158.9,190.6 159.9,190.6 160.9,190.6 161.9,190.7 162.9,190.7 163.9,190.8 164.9,190.8 165.9,190.8 166.9,190.8 167.9,190.8 168.9,190.9 169.9,190.9 170.9,190.9 171.9,190.9 172.9,190.9 173.9,190.9 174.9,190.9 175.9,190.9 176.9,190.9 177.9,190.9 178.9,190.9 179.9,190.9 180.9,190.9 181.9,190.9 182.9,190.8 183.9,190.8 184.9,190.8 185.9,190.8 186.9,190.7 187.9,190.7 188.9,190.6 189.9,190.5 190.9,190.4 191.9,190.3 193,190.2 194,190 195,189.8 196,189.6 197,189.3 198,189 199,188.6 200,188.1 201,187.6 202,186.9 203,186.2 204,185.3 205,184.3 206,183.1 207,181.8 208,180.3 209,178.6 210,176.8 211,174.7 212,172.4 213,169.9 214,167.2 215,164.3 216,161.2 217,157.9 218,154.4 219,150.8 220,147 221,143.1 222,139.2 223,135.3 224,131.4 225,127.6 226,124 227,120.6 228,117.4 229,114.6 230,112.2 231,110.2 232,108.8 233,107.8 234,107.5 235,107.7 236,108.4 237,109.8 238.1,111.6 239.1,113.9 240.1,116.7 241.1,119.9 242.1,123.3 243.1,127.1 244.1,131 245.1,135 246.1,139.2 247.1,143.3 248.1,147.3 249.1,151.3 250.1,155.1 251.1,158.7 252.1,162.1 253.1,165.3 254.1,168.2 255.1,170.8 256.1,173.3 257.1,175.4 258.1,177.3 259.1,179 260.1,180.5 261.1,181.8 262.1,183 263.1,183.9 264.1,184.8 265.1,185.5 266.1,186.1 267.1,186.7 268.1,187.1 269.1,187.5 270.1,187.9 271.1,188.2 272.1,188.4 273.1,188.7 274.1,188.9 275.1,189.1 276.1,189.2 277.1,189.4 278.1,189.5 279.1,189.7 280.1,189.8 281.1,189.9 282.1,190 283.2,190.1 284.2,190.2 285.2,190.3 286.2,190.4 287.2,190.5 288.2,190.6 289.2,190.7 290.2,190.8 291.2,190.8 292.2,190.9 293.2,191 294.2,191 295.2,191.1 296.2,191.1 297.2,191.2 298.2,191.2 299.2,191.2 300.2,191.3 301.2,191.3 302.2,191.3 303.2,191.4 304.2,191.4 305.2,191.4 306.2,191.4 307.2,191.5 308.2,191.5 309.2,191.5 310.2,191.5 311.2,191.5 312.2,191.5 313.2,191.5 314.2,191.6 315.2,191.6 316.2,191.6 317.2,191.6 318.2,191.6 319.2,191.6 320.2,191.6 321.2,191.6 322.2,191.6 323.2,191.6 324.2,191.6 325.2,191.6 326.2,191.6 327.2,191.6" fill="none" stroke="#ff0000" stroke-width="1.5"/>
<path d="M32.2,191.8a2.35,2.35 0 1,0 4.7,0a2.35,2.35 0 1,0 -4.7,0M34.5,191.8a2.35,2.35 0 1,0 4.7,0a2.35,2.35 0 1,0 -4.7,0M36.9,191.7a2.35,2.35 0 1,0 4.7,0a2.35,2.35 0 1,0 -4.7,0M39.2,191.7a2.35,2.35 0 1,0 4.7,0a2.35,2.35 0 1,0 -4.7,0M41.6,191.7a2.35,2.35 0 1,0 4.7,0a2.35,2.35 0 1,0 -4.7,0M44,191.6a2.35,2.35 0 1,0 4.7,0a2.35,2.35 0 1,0 -4.7,0M46.3,191.6a2.35,2.35 0 1,0 4.7,0a2.35,2.35 0 1,0 -4.7,0M48.7,191.5a2.35,2.35 0 1,0 4.7,0a2.35,2.35 0 1,0 -4.7,0M51,191.5a2.35,2.35 0 1,0 4.7,0a2.35,2.35 0 1,0 -4.7,0M53.4,191.4a2.35,2.35 0 1,0 4.7,0a2.35,2.35 0 1,0 -4.7,0M55.7,191.3a2.35,2.35 0 1,0 4.7,0a2.35,2.35 0 1,0 -4.7,0M58.1,191.2a2.35,2.35 0 1,0 4.7,0a2.35,2.35 0 1,0 -4.7,0M60.4,191.1a2.35,2.35 0 1,0 4.7,0a2.35,2.35 0 1,0 -4.7,0M62.8,191a2.35,2.35 0 1,0 4.7,0a2.35,2.35 0 1,0 -4.7,0M65.1,190.7a2.35,2.35 0 1,0 4.7,0a2.35,2.35 0 1,0 -4.7,0M67.5,190.4a2.35,2.35 0 1,0 4.7,0a2.35,2.35 0 1,0 -4.7,0M69.8,189.9a2.35,2.35 0 1,0 4.7,0a2.35,2.35 0 1,0 -4.7,0M72.1,189.3a2.35,2.35 0 1,0 4.7,0a2.35,2.35 0 1,0 -4.7,0M74.5,188.3a2.35,2.35 0 1,0 4.7,0a2.35,2.35 0 1,0 -4.7,0M76.8,187a2.35,2.35 0 1,0 4.7,0a2.35,2.35 0 1,0 -4.7,0M79.2,185.2a2.35,2.35 0 1,0 4.7,0a2.35,2.35 0 1,0 -4.7,0M81.5,182.9a2.35,2.35 0 1,0 4.7,0a2.35,2.35 0 1,0 -4.7,0M83.9,180a2.35,2.35 0 1,0 4.7,0a2.35,2.35 0 1,0 -4.7,0M86.2,176.4a2.35,2.35 0 1,0 4.7,0a2.35,2.35 0 1,0 -4.7,0M88.6,172.2a2.35,2.35 0 1,0 4.7,0a2.35,2.35 0 1,0 -4.7,0M90.9,167.3a2.35,2.35 0 1,0 4.7,0a2.35,2.35 0 1,0 -4.7,0M93.3,161.8a2.35,2.35 0 1,0 4.7,0a2.35,2.35 0 1,0 -4.7,0M95.6,155.8a2.35,2.35 0 1,0 4.7,0a2.35,2.35 0 1,0 -4.7,0M98,149.4a2.35,2.35 0 1,0 4.7,0a2.35,2.35 0 1,0 -4.7,0M100.3,142.9a2.35,2.35 0 1,0 4.7,0a2.35,2.35 0 1,0 -4.7,0M102.7,136.7a2.35,2.35 0 1,0 4.7,0a2.35,2.35 0 1,0 -4.7,0M105,131.5a2.35,2.35 0 1,0 4.7,0a2.35,2.35 0 1,0 -4.7,0M107.4,127.9a2.35,2.35 0 1,0 4.7,0a2.35,2.35 0 1,0 -4.7,0M109.7,126.5a2.35,2.35 0 1,0 4.7,0a2.35,2.35 0 1,0 -4.7,0M112.1,127.6a2.35,2.35 0 1,0 4.7,0a2.35,2.35 0 1,0 -4.7,0M114.4,131.3a2.35,2.35 0 1,0 4.7,0a2.35,2.35 0 1,0 -4.7,0M116.8,137.2a2.35,2.35 0 1,0 4.7,0a2.35,2.35 0 1,0 -4.7,0M119.1,144.4a2.35,2.35 0 1,0 4.7,0a2.35,2.35 0 1,0 -4.7,0M121.5,152.1a2.35,2.35 0 1,0 4.7,0a2.35,2.35 0 1,0 -4.7,0M123.8,159.3a2.35,2.35 0 1,0 4.7,0a2.35,2.35 0 1,0 -4.7,0M126.2,165.4a2.35,2.35 0 1,0 4.7,0a2.35,2.35 0 1,0 -4.7,0M128.5,170.7a2.35,2.35 0 1,0 4.7,0a2.35,2.35 0 1,0 -4.7,0M130.9,175.5a2.35,2.35 0 1,0 4.7,0a2.35,2.35 0 1,0 -4.7,0M133.2,179.8a2.35,2.35 0 1,0 4.7,0a2.35,2.35 0 1,0 -4.7,0M135.6,183.2a2.35,2.35 0 1,0 4.7,0a2.35,2.35 0 1,0 -4.7,0M137.9,185.7a2.35,2.35 0 1,0 4.7,0a2.35,2.35 0 1,0 -4.7,0M140.3,187.3a2.35,2.35 0 1,0 4.7,0a2.35,2.35 0 1,0 -4.7,0M142.6,188.4a2.35,2.35 0 1,0 4.7,0a2.35,2.35 0 1,0 -4.7,0M145,189.1a2.35,2.35 0 1,0 4.7,0a2.35,2.35 0 1,0 -4.7,0M147.3,189.6a2.35,2.35 0 1,0 4.7,0a2.35,2.35 0 1,0 -4.7,0M149.7,190a2.35,2.35 0 1,0 4.7,0a2.35,2.35 0 1,0 -4.7,0M152,190.2a2.35,2.35 0 1,0 4.7,0a2.35,2.35 0 1,0 -4.7,0M154.4,190.4a2.35,2.35 0 1,0 4.7,0a2.35,2.35 0 1,0 -4.7,0M156.7,190.6a2.35,2.35 0 1,0 4.7,0a2.35,2.35 0 1,0 -4.7,0M159.1,190.7a2.35,2.35 0 1,0 4.7,0a2.35,2.35 0 1,0 -4.7,0M161.4,190.8a2.35,2.35 0 1,0 4.7,0a2.35,2.35 0 1,0 -4.7,0M163.8,190.8a2.35,2.35 0 1,0 4.7,0a2.35,2.35 0 1,0 -4.7,0M166.1,190.9a2.35,2.35 0 1,0 4.7,0a2.35,2.35 0 1,0 -4.7,0M168.5,190.9a2.35,2.35 0 1,0 4.7,0a2.35,2.35 0 1,0 -4.7,0M170.8,190.9a2.35,2.35 0 1,0 4.7,0a2.35,2.35 0 1,0 -4.7,0M173.2,190.9a2.35,2.35 0 1,0 4.7,0a2.35,2.35 0 1,0 -4.7,0M175.5,190.9a2.35,2.35 0 1,0 4.7,0a2.35,2.35 0 1,0 -4.7,0M177.9,190.9a2.35,2.35 0 1,0 4.7,0a2.35,2.35 0 1,0 -4.7,0M180.2,190.9a2.35,2.35 0 1,0 4.7,0a2.35,2.35 0 1,0 -4.7,0M182.6,190.8a2.35,2.35 0 1,0 4.7,0a2.35,2.35 0 1,0 -4.7,0M184.9,190.7a2.35,2.35 0 1,0 4.7,0a2.35,2.35 0 1,0 -4.7,0M187.3,190.6a2.35,2.35 0 1,0 4.7,0a2.35,2.35 0 1,0 -4.7,0M189.6,190.3a2.35,2.35 0 1,0 4.7,0a2.35,2.35 0 1,0 -4.7,0M192,190a2.35,2.35 0 1,0 4.7,0a2.35,2.35 0 1,0 -4.7,0M194.3,189.4a2.35,2.35 0 1,0 4.7,0a2.35,2.35 0 1,0 -4.7,0M196.7,188.6a2.35,2.35 0 1,0 4.7,0a2.35,2.35 0 1,0 -4.7,0M199,187.3a2.35,2.35 0 1,0 4.7,0a2.35,2.35 0 1,0 -4.7,0M201.4,185.5a2.35,2.35 0 1,0 4.7,0a2.35,2.35 0 1,0 -4.7,0M203.7,183a2.35,2.35 0 1,0 4.7,0a2.35,2.35 0 1,0 -4.7,0M206.1,179.6a2.35,2.35 0 1,0 4.7,0a2.35,2.35 0 1,0 -4.7,0M208.4,175.1a2.35,2.35 0 1,0 4.7,0a2.35,2.35 0 1,0 -4.7,0M210.8,169.5a2.35,2.35 0 1,0 4.7,0a2.35,2.35 0 1,0 -4.7,0M213.1,162.8a2.35,2.35 0 1,0 4.7,0a2.35,2.35 0 1,0 -4.7,0M215.5,155a2.35,2.35 0 1,0 4.7,0a2.35,2.35 0 1,0 -4.7,0M217.8,146.3a2.35,2.35 0 1,0 4.7,0a2.35,2.35 0 1,0 -4.7,0M220.2,137.2a2.35,2.35 0 1,0 4.7,0a2.35,2.35 0 1,0 -4.7,0M222.5,128.1a2.35,2.35 0 1,0 4.7,0a2.35,2.35 0 1,0 -4.7,0M224.9,119.9a2.35,2.35 0 1,0 4.7,0a2.35,2.35 0 1,0 -4.7,0M227.2,113.2a2.35,2.35 0 1,0 4.7,0a2.35,2.35 0 1,0 -4.7,0M229.6,108.9a2.35,2.35 0 1,0 4.7,0a2.35,2.35 0 1,0 -4.7,0M231.9,107.5a2.35,2.35 0 1,0 4.7,0a2.35,2.35 0 1,0 -4.7,0M234.3,109.2a2.35,2.35 0 1,0 4.7,0a2.35,2.35 0 1,0 -4.7,0M236.6,113.8a2.35,2.35 0 1,0 4.7,0a2.35,2.35 0 1,0 -4.7,0M239,120.8a2.35,2.35 0 1,0 4.7,0a2.35,2.35 0 1,0 -4.7,0M241.3,129.5a2.35,2.35 0 1,0 4.7,0a2.35,2.35 0 1,0 -4.7,0M243.7,139.1a2.35,2.35 0 1,0 4.7,0a2.35,2.35 0 1,0 -4.7,0M246,148.6a2.35,2.35 0 1,0 4.7,0a2.35,2.35 0 1,0 -4.7,0M248.4,157.5a2.35,2.35 0 1,0 4.7,0a2.35,2.35 0 1,0 -4.7,0M250.7,165.3a2.35,2.35 0 1,0 4.7,0a2.35,2.35 0 1,0 -4.7,0M253.1,171.7a2.35,2.35 0 1,0 4.7,0a2.35,2.35 0 1,0 -4.7,0M255.4,176.8a2.35,2.35 0 1,0 4.7,0a2.35,2.35 0 1,0 -4.7,0M257.8,180.6a2.35,2.35 0 1,0 4.7,0a2.35,2.35 0 1,0 -4.7,0M260.1,183.4a2.35,2.35 0 1,0 4.7,0a2.35,2.35 0 1,0 -4.7,0M262.5,185.3a2.35,2.35 0 1,0 4.7,0a2.35,2.35 0 1,0 -4.7,0M264.8,186.7a2.35,2.35 0 1,0 4.7,0a2.35,2.35 0 1,0 -4.7,0M267.2,187.7a2.35,2.35 0 1,0 4.7,0a2.35,2.35 0 1,0 -4.7,0M269.5,188.4a2.35,2.35 0 1,0 4.7,0a2.35,2.35 0 1,0 -4.7,0M271.9,188.9a2.35,2.35 0 1,0 4.7,0a2.35,2.35 0 1,0 -4.7,0M274.2,189.3a2.35,2.35 0 1,0 4.7,0a2.35,2.35 0 1,0 -4.7,0M276.6,189.6a2.35,2.35 0 1,0 4.7,0a2.35,2.35 0 1,0 -4.7,0M278.9,189.9a2.35,2.35 0 1,0 4.7,0a2.35,2.35 0 1,0 -4.7,0M281.3,190.2a2.35,2.35 0 1,0 4.7,0a2.35,2.35 0 1,0 -4.7,0M283.6,190.4a2.35,2.35 0 1,0 4.7,0a2.35,2.35 0 1,0 -4.7,0M286,190.6a2.35,2.35 0 1,0 4.7,0a2.35,2.35 0 1,0 -4.7,0M288.3,190.8a2.35,2.35 0 1,0 4.7,0a2.35,2.35 0 1,0 -4.7,0M290.7,190.9a2.35,2.35 0 1,0 4.7,0a2.35,2.35 0 1,0 -4.7,0M293,191.1a2.35,2.35 0 1,0 4.7,0a2.35,2.35 0 1,0 -4.7,0M295.4,191.2a2.35,2.35 0 1,0 4.7,0a2.35,2.35 0 1,0 -4.7,0M297.7,191.3a2.35,2.35 0 1,0 4.7,0a2.35,2.35 0 1,0 -4.7,0M300.1,191.3a2.35,2.35 0 1,0 4.7,0a2.35,2.35 0 1,0 -4.7,0M302.4,191.4a2.35,2.35 0 1,0 4.7,0a2.35,2.35 0 1,0 -4.7,0M304.8,191.5a2.35,2.35 0 1,0 4.7,0a2.35,2.35 0 1,0 -4.7,0M307.2,191.5a2.35,2.35 0 1,0 4.7,0a2.35,2.35 0 1,0 -4.7,0M309.5,191.5a2.35,2.35 0 1,0 4.7,0a2.35,2.35 0 1,0 -4.7,0M311.9,191.6a2.35,2.35 0 1,0 4.7,0a2.35,2.35 0 1,0 -4.7,0M314.2,191.6a2.35,2.35 0 1,0 4.7,0a2.35,2.35 0 1,0 -4.7,0M316.6,191.6a2.35,2.35 0 1,0 4.7,0a2.35,2.35 0 1,0 -4.7,0M318.9,191.6a2.35,2.35 0 1,0 4.7,0a2.35,2.35 0 1,0 -4.7,0M321.3,191.6a2.35,2.35 0 1,0 4.7,0a2.35,2.35 0 1,0 -4.7,0" fill="none" stroke="#ff0000" stroke-width="1.4"/>
</g>
<clipPath id="cb1"><rect x="380.3" y="4.7" width="291.6" height="95.3"/></clipPath>
<g clip-path="url(#cb1)">
<line x1="401" y1="96.7" x2="653" y2="96" stroke="#800080" stroke-width="1.3"/>
<polyline points="401.3,96.4 402.3,96.4 403.3,96.3 404.3,96.3 405.4,96.3 406.4,96.3 407.4,96.2 408.4,96.2 409.4,96.2 410.4,96.1 411.4,96.1 412.4,96.1 413.4,96 414.4,96 415.4,95.9 416.4,95.9 417.4,95.8 418.4,95.7 419.4,95.7 420.4,95.6 421.4,95.5 422.4,95.4 423.4,95.3 424.4,95.3 425.4,95.2 426.4,95 427.4,94.9 428.4,94.8 429.4,94.7 430.4,94.6 431.4,94.4 432.4,94.3 433.4,94.1 434.4,94 435.4,93.8 436.4,93.6 437.4,93.5 438.4,93.3 439.4,93.1 440.4,92.9 441.4,92.7 442.4,92.5 443.4,92.3 444.4,92 445.4,91.8 446.4,91.6 447.4,91.3 448.4,91.1 449.4,90.8 450.4,90.6 451.4,90.3 452.4,90 453.5,89.8 454.5,89.5 455.5,89.2 456.5,89 457.5,88.7 458.5,88.5 459.5,88.2 460.5,87.9 461.5,87.7 462.5,87.4 463.5,87.2 464.5,87 465.5,86.8 466.5,86.5 467.5,86.3 468.5,86.1 469.5,86 470.5,85.8 471.5,85.6 472.5,85.5 473.5,85.4 474.5,85.3 475.5,85.2 476.5,85.1 477.5,85.1 478.5,85 479.5,85 480.5,85 481.5,85 482.5,85.1 483.5,85.1 484.5,85.2 485.5,85.3 486.5,85.4 487.5,85.5 488.5,85.7 489.5,85.8 490.5,86 491.5,86.2 492.5,86.4 493.5,86.6 494.5,86.8 495.5,87 496.5,87.2 497.5,87.5 498.5,87.7 499.5,88 500.5,88.2 501.5,88.5 502.6,88.7 503.6,89 504.6,89.3 505.6,89.5 506.6,89.8 507.6,90 508.6,90.3 509.6,90.5 510.6,90.8 511.6,91 512.6,91.3 513.6,91.5 514.6,91.7 515.6,91.9 516.6,92.2 517.6,92.4 518.6,92.6 519.6,92.8 520.6,93 521.6,93.1 522.6,93.3 523.6,93.5 524.6,93.6 525.6,93.8 526.6,93.9 527.6,94.1 528.6,94.2 529.6,94.3 530.6,94.5 531.6,94.6 532.6,94.7 533.6,94.8 534.6,94.9 535.6,95 536.6,95 537.6,95.1 538.6,95.2 539.6,95.3 540.6,95.3 541.6,95.4 542.6,95.4 543.6,95.5 544.6,95.5 545.6,95.6 546.6,95.6 547.6,95.7 548.6,95.7 549.6,95.7 550.7,95.8 551.7,95.8 552.7,95.8 553.7,95.8 554.7,95.8 555.7,95.9 556.7,95.9 557.7,95.9 558.7,95.9 559.7,95.9 560.7,95.9 561.7,95.9 562.7,96 563.7,96 564.7,96 565.7,96 566.7,96 567.7,96 568.7,96 569.7,96 570.7,96 571.7,96 572.7,96 573.7,96 574.7,96 575.7,96 576.7,96 577.7,96 578.7,96 579.7,96 580.7,96 581.7,96 582.7,96 583.7,96 584.7,96 585.7,96 586.7,96 587.7,96 588.7,96 589.7,96 590.7,96 591.7,96 592.7,96 593.7,96 594.7,96 595.7,96 596.7,96 597.7,96 598.7,96 599.8,96 600.8,96 601.8,96 602.8,96 603.8,96 604.8,96 605.8,96 606.8,96 607.8,96 608.8,96 609.8,96" fill="none" stroke="#0a820a" stroke-width="1.7"/>
<polyline points="417.4,96.6 418.4,96.6 419.4,96.6 420.4,96.5 421.4,96.5 422.4,96.5 423.4,96.5 424.4,96.5 425.4,96.4 426.4,96.4 427.4,96.4 428.4,96.4 429.4,96.3 430.4,96.3 431.4,96.2 432.4,96.2 433.4,96.2 434.4,96.1 435.4,96.1 436.4,96 437.4,96 438.4,95.9 439.4,95.8 440.4,95.8 441.4,95.7 442.4,95.6 443.4,95.5 444.4,95.4 445.4,95.3 446.4,95.2 447.4,95.1 448.4,95 449.4,94.9 450.4,94.7 451.4,94.6 452.4,94.4 453.5,94.3 454.5,94.1 455.5,93.9 456.5,93.7 457.5,93.5 458.5,93.3 459.5,93.1 460.5,92.9 461.5,92.6 462.5,92.4 463.5,92.1 464.5,91.9 465.5,91.6 466.5,91.3 467.5,91 468.5,90.6 469.5,90.3 470.5,90 471.5,89.6 472.5,89.2 473.5,88.9 474.5,88.5 475.5,88.1 476.5,87.6 477.5,87.2 478.5,86.8 479.5,86.3 480.5,85.9 481.5,85.4 482.5,84.9 483.5,84.4 484.5,83.9 485.5,83.4 486.5,82.9 487.5,82.4 488.5,81.9 489.5,81.4 490.5,80.9 491.5,80.3 492.5,79.8 493.5,79.3 494.5,78.7 495.5,78.2 496.5,77.7 497.5,77.2 498.5,76.6 499.5,76.1 500.5,75.6 501.5,75.1 502.6,74.7 503.6,74.2 504.6,73.7 505.6,73.3 506.6,72.8 507.6,72.4 508.6,72 509.6,71.6 510.6,71.3 511.6,70.9 512.6,70.6 513.6,70.3 514.6,70 515.6,69.7 516.6,69.5 517.6,69.3 518.6,69.1 519.6,68.9 520.6,68.8 521.6,68.7 522.6,68.6 523.6,68.5 524.6,68.5 525.6,68.5 526.6,68.5 527.6,68.6 528.6,68.7 529.6,68.8 530.6,68.9 531.6,69 532.6,69.2 533.6,69.4 534.6,69.7 535.6,69.9 536.6,70.2 537.6,70.5 538.6,70.8 539.6,71.2 540.6,71.5 541.6,71.9 542.6,72.3 543.6,72.7 544.6,73.1 545.6,73.6 546.6,74 547.6,74.5 548.6,75 549.6,75.5 550.7,76 551.7,76.5 552.7,77 553.7,77.5 554.7,78 555.7,78.5 556.7,79.1 557.7,79.6 558.7,80.1 559.7,80.6 560.7,81.2 561.7,81.7 562.7,82.2 563.7,82.7 564.7,83.2 565.7,83.7 566.7,84.2 567.7,84.7 568.7,85.1 569.7,85.6 570.7,86 571.7,86.5 572.7,86.9 573.7,87.3 574.7,87.8 575.7,88.2 576.7,88.5 577.7,88.9 578.7,89.3 579.7,89.6 580.7,90 581.7,90.3 582.7,90.6 583.7,90.9 584.7,91.2 585.7,91.5 586.7,91.7 587.7,92 588.7,92.2 589.7,92.5 590.7,92.7 591.7,92.9 592.7,93.1 593.7,93.3 594.7,93.5 595.7,93.7 596.7,93.8 597.7,94 598.7,94.1 599.8,94.3 600.8,94.4 601.8,94.5 602.8,94.6 603.8,94.7 604.8,94.8 605.8,94.9 606.8,95 607.8,95.1 608.8,95.2 609.8,95.2 610.8,95.3 611.8,95.4 612.8,95.4 613.8,95.5 614.8,95.5 615.8,95.6 616.8,95.6 617.8,95.6 618.8,95.7 619.8,95.7 620.8,95.7 621.8,95.8 622.8,95.8 623.8,95.8 624.8,95.8 625.8,95.8 626.8,95.9 627.8,95.9 628.8,95.9 629.8,95.9 630.8,95.9 631.8,95.9 632.8,95.9" fill="none" stroke="#0000ff" stroke-width="1.7"/>
<polyline points="454.5,96.5 455.5,96.5 456.5,96.5 457.5,96.4 458.5,96.4 459.5,96.4 460.5,96.4 461.5,96.4 462.5,96.4 463.5,96.4 464.5,96.4 465.5,96.3 466.5,96.3 467.5,96.3 468.5,96.3 469.5,96.3 470.5,96.2 471.5,96.2 472.5,96.2 473.5,96.1 474.5,96.1 475.5,96.1 476.5,96 477.5,96 478.5,95.9 479.5,95.9 480.5,95.8 481.5,95.8 482.5,95.7 483.5,95.6 484.5,95.5 485.5,95.4 486.5,95.3 487.5,95.2 488.5,95.1 489.5,95 490.5,94.9 491.5,94.7 492.5,94.6 493.5,94.4 494.5,94.3 495.5,94.1 496.5,93.9 497.5,93.7 498.5,93.5 499.5,93.2 500.5,93 501.5,92.7 502.6,92.4 503.6,92.1 504.6,91.8 505.6,91.5 506.6,91.1 507.6,90.7 508.6,90.4 509.6,89.9 510.6,89.5 511.6,89.1 512.6,88.6 513.6,88.1 514.6,87.6 515.6,87.1 516.6,86.5 517.6,86 518.6,85.4 519.6,84.8 520.6,84.2 521.6,83.5 522.6,82.9 523.6,82.2 524.6,81.6 525.6,80.9 526.6,80.1 527.6,79.4 528.6,78.7 529.6,78 530.6,77.2 531.6,76.5 532.6,75.7 533.6,75 534.6,74.2 535.6,73.5 536.6,72.7 537.6,72 538.6,71.2 539.6,70.5 540.6,69.8 541.6,69.1 542.6,68.4 543.6,67.8 544.6,67.1 545.6,66.5 546.6,65.9 547.6,65.4 548.6,64.8 549.6,64.3 550.7,63.9 551.7,63.4 552.7,63 553.7,62.7 554.7,62.4 555.7,62.1 556.7,61.8 557.7,61.6 558.7,61.5 559.7,61.4 560.7,61.3 561.7,61.3 562.7,61.3 563.7,61.4 564.7,61.5 565.7,61.7 566.7,61.9 567.7,62.1 568.7,62.4 569.7,62.8 570.7,63.1 571.7,63.5 572.7,64 573.7,64.4 574.7,64.9 575.7,65.5 576.7,66 577.7,66.6 578.7,67.3 579.7,67.9 580.7,68.6 581.7,69.2 582.7,69.9 583.7,70.6 584.7,71.4 585.7,72.1 586.7,72.8 587.7,73.6 588.7,74.3 589.7,75.1 590.7,75.8 591.7,76.6 592.7,77.3 593.7,78 594.7,78.8 595.7,79.5 596.7,80.2 597.7,80.9 598.7,81.6 599.8,82.2 600.8,82.9 601.8,83.5 602.8,84.2 603.8,84.8 604.8,85.4 605.8,85.9 606.8,86.5 607.8,87 608.8,87.5 609.8,88 610.8,88.5 611.8,88.9 612.8,89.4 613.8,89.8 614.8,90.2 615.8,90.5 616.8,90.9 617.8,91.2 618.8,91.6 619.8,91.9 620.8,92.2 621.8,92.4 622.8,92.7 623.8,92.9 624.8,93.1 625.8,93.4 626.8,93.6 627.8,93.7 628.8,93.9 629.8,94.1 630.8,94.2 631.8,94.4 632.8,94.5 633.8,94.6 634.8,94.7 635.8,94.8 636.8,94.9 637.8,95 638.8,95.1 639.8,95.2 640.8,95.2 641.8,95.3 642.8,95.3 643.8,95.4 644.8,95.4 645.8,95.5 646.8,95.5 647.9,95.6 648.9,95.6 649.9,95.6 650.9,95.6 651.9,95.7 652.9,95.7" fill="none" stroke="#111111" stroke-width="1.7"/>
<polyline points="380.3,95.8 381.3,95.8 382.3,95.7 383.3,95.7 384.3,95.6 385.3,95.6 386.3,95.5 387.3,95.5 388.3,95.4 389.3,95.4 390.3,95.3 391.3,95.3 392.3,95.2 393.3,95.1 394.3,95.1 395.3,95 396.3,94.9 397.3,94.9 398.3,94.8 399.3,94.7 400.3,94.7 401.3,94.6 402.3,94.5 403.3,94.4 404.3,94.4 405.4,94.3 406.4,94.2 407.4,94.1 408.4,94 409.4,93.9 410.4,93.8 411.4,93.7 412.4,93.6 413.4,93.5 414.4,93.4 415.4,93.3 416.4,93.2 417.4,93.1 418.4,92.9 419.4,92.8 420.4,92.7 421.4,92.6 422.4,92.4 423.4,92.3 424.4,92.1 425.4,92 426.4,91.8 427.4,91.7 428.4,91.5 429.4,91.4 430.4,91.2 431.4,91 432.4,90.9 433.4,90.7 434.4,90.5 435.4,90.3 436.4,90.1 437.4,89.9 438.4,89.7 439.4,89.5 440.4,89.3 441.4,89 442.4,88.8 443.4,88.6 444.4,88.3 445.4,88.1 446.4,87.8 447.4,87.5 448.4,87.3 449.4,87 450.4,86.7 451.4,86.4 452.4,86.1 453.5,85.8 454.5,85.5 455.5,85.2 456.5,84.9 457.5,84.5 458.5,84.2 459.5,83.8 460.5,83.5 461.5,83.1 462.5,82.8 463.5,82.4 464.5,82 465.5,81.6 466.5,81.2 467.5,80.8 468.5,80.4 469.5,79.9 470.5,79.5 471.5,79.1 472.5,78.6 473.5,78.2 474.5,77.7 475.5,77.2 476.5,76.8 477.5,76.3 478.5,75.8 479.5,75.3 480.5,74.8 481.5,74.3 482.5,73.8 483.5,73.3 484.5,72.8 485.5,72.2 486.5,71.7 487.5,71.2 488.5,70.6 489.5,70.1 490.5,69.5 491.5,69 492.5,68.4 493.5,67.9 494.5,67.3 495.5,66.7 496.5,66.2 497.5,65.6 498.5,65 499.5,64.5 500.5,63.9 501.5,63.3 502.6,62.7 503.6,62.1 504.6,61.5 505.6,61 506.6,60.4 507.6,59.8 508.6,59.2 509.6,58.6 510.6,58 511.6,57.4 512.6,56.8 513.6,56.2 514.6,55.6 515.6,55 516.6,54.5 517.6,53.9 518.6,53.3 519.6,52.7 520.6,52.1 521.6,51.6 522.6,51 523.6,50.5 524.6,49.9 525.6,49.4 526.6,48.8 527.6,48.3 528.6,47.8 529.6,47.3 530.6,46.8 531.6,46.3 532.6,45.9 533.6,45.4 534.6,45 535.6,44.6 536.6,44.3 537.6,43.9 538.6,43.6 539.6,43.3 540.6,43 541.6,42.8 542.6,42.6 543.6,42.4 544.6,42.2 545.6,42.1 546.6,42.1 547.6,42.1 548.6,42.1 549.6,42.1 550.7,42.2 551.7,42.4 552.7,42.6 553.7,42.8 554.7,43.1 555.7,43.4 556.7,43.8 557.7,44.2 558.7,44.7 559.7,45.3 560.7,45.8 561.7,46.4 562.7,47.1 563.7,47.8 564.7,48.5 565.7,49.3 566.7,50.1 567.7,51 568.7,51.8 569.7,52.7 570.7,53.7 571.7,54.6 572.7,55.6 573.7,56.6 574.7,57.6 575.7,58.6 576.7,59.6 577.7,60.6 578.7,61.6 579.7,62.7 580.7,63.7 581.7,64.7 582.7,65.7 583.7,66.8 584.7,67.8 585.7,68.8 586.7,69.7 587.7,70.7 588.7,71.7 589.7,72.6 590.7,73.5 591.7,74.4 592.7,75.3 593.7,76.2 594.7,77 595.7,77.8 596.7,78.6 597.7,79.4 598.7,80.1 599.8,80.9 600.8,81.6 601.8,82.2 602.8,82.9 603.8,83.5 604.8,84.1 605.8,84.7 606.8,85.3 607.8,85.8 608.8,86.3 609.8,86.8 610.8,87.3 611.8,87.7 612.8,88.1 613.8,88.6 614.8,89 615.8,89.3 616.8,89.7 617.8,90 618.8,90.3 619.8,90.6 620.8,90.9 621.8,91.2 622.8,91.5 623.8,91.7 624.8,91.9 625.8,92.2 626.8,92.4 627.8,92.6 628.8,92.8 629.8,92.9 630.8,93.1 631.8,93.3 632.8,93.4 633.8,93.6 634.8,93.7 635.8,93.8 636.8,93.9 637.8,94 638.8,94.2 639.8,94.2 640.8,94.3 641.8,94.4 642.8,94.5 643.8,94.6 644.8,94.7 645.8,94.7 646.8,94.8 647.9,94.9 648.9,94.9 649.9,95 650.9,95 651.9,95.1 652.9,95.1 653.9,95.1 654.9,95.2 655.9,95.2 656.9,95.3 657.9,95.3 658.9,95.3 659.9,95.3 660.9,95.4 661.9,95.4 662.9,95.4 663.9,95.4 664.9,95.5 665.9,95.5 666.9,95.5 667.9,95.5 668.9,95.5 669.9,95.5 670.9,95.5 671.9,95.6" fill="none" stroke="#ff0000" stroke-width="1.5"/>
<path d="M376.9,95.8a2.35,2.35 0 1,0 4.7,0a2.35,2.35 0 1,0 -4.7,0M382.8,95.6a2.35,2.35 0 1,0 4.7,0a2.35,2.35 0 1,0 -4.7,0M388.6,95.3a2.35,2.35 0 1,0 4.7,0a2.35,2.35 0 1,0 -4.7,0M394.5,94.9a2.35,2.35 0 1,0 4.7,0a2.35,2.35 0 1,0 -4.7,0M400.3,94.5a2.35,2.35 0 1,0 4.7,0a2.35,2.35 0 1,0 -4.7,0M406.2,94a2.35,2.35 0 1,0 4.7,0a2.35,2.35 0 1,0 -4.7,0M412,93.4a2.35,2.35 0 1,0 4.7,0a2.35,2.35 0 1,0 -4.7,0M417.9,92.7a2.35,2.35 0 1,0 4.7,0a2.35,2.35 0 1,0 -4.7,0M423.7,91.9a2.35,2.35 0 1,0 4.7,0a2.35,2.35 0 1,0 -4.7,0M429.6,90.9a2.35,2.35 0 1,0 4.7,0a2.35,2.35 0 1,0 -4.7,0M435.4,89.8a2.35,2.35 0 1,0 4.7,0a2.35,2.35 0 1,0 -4.7,0M441.3,88.5a2.35,2.35 0 1,0 4.7,0a2.35,2.35 0 1,0 -4.7,0M447.1,87a2.35,2.35 0 1,0 4.7,0a2.35,2.35 0 1,0 -4.7,0M453,85.2a2.35,2.35 0 1,0 4.7,0a2.35,2.35 0 1,0 -4.7,0M458.8,83.2a2.35,2.35 0 1,0 4.7,0a2.35,2.35 0 1,0 -4.7,0M464.7,81a2.35,2.35 0 1,0 4.7,0a2.35,2.35 0 1,0 -4.7,0M470.5,78.4a2.35,2.35 0 1,0 4.7,0a2.35,2.35 0 1,0 -4.7,0M476.4,75.7a2.35,2.35 0 1,0 4.7,0a2.35,2.35 0 1,0 -4.7,0M482.2,72.7a2.35,2.35 0 1,0 4.7,0a2.35,2.35 0 1,0 -4.7,0M488.1,69.6a2.35,2.35 0 1,0 4.7,0a2.35,2.35 0 1,0 -4.7,0M493.9,66.3a2.35,2.35 0 1,0 4.7,0a2.35,2.35 0 1,0 -4.7,0M499.8,63a2.35,2.35 0 1,0 4.7,0a2.35,2.35 0 1,0 -4.7,0M505.6,59.5a2.35,2.35 0 1,0 4.7,0a2.35,2.35 0 1,0 -4.7,0M511.5,56.1a2.35,2.35 0 1,0 4.7,0a2.35,2.35 0 1,0 -4.7,0M517.3,52.7a2.35,2.35 0 1,0 4.7,0a2.35,2.35 0 1,0 -4.7,0M523.2,49.4a2.35,2.35 0 1,0 4.7,0a2.35,2.35 0 1,0 -4.7,0M529,46.4a2.35,2.35 0 1,0 4.7,0a2.35,2.35 0 1,0 -4.7,0M534.9,44a2.35,2.35 0 1,0 4.7,0a2.35,2.35 0 1,0 -4.7,0M540.7,42.5a2.35,2.35 0 1,0 4.7,0a2.35,2.35 0 1,0 -4.7,0M546.6,42.1a2.35,2.35 0 1,0 4.7,0a2.35,2.35 0 1,0 -4.7,0M552.4,43.1a2.35,2.35 0 1,0 4.7,0a2.35,2.35 0 1,0 -4.7,0M558.3,45.8a2.35,2.35 0 1,0 4.7,0a2.35,2.35 0 1,0 -4.7,0M564.1,49.9a2.35,2.35 0 1,0 4.7,0a2.35,2.35 0 1,0 -4.7,0M570,55.2a2.35,2.35 0 1,0 4.7,0a2.35,2.35 0 1,0 -4.7,0M575.8,61.1a2.35,2.35 0 1,0 4.7,0a2.35,2.35 0 1,0 -4.7,0M581.7,67.1a2.35,2.35 0 1,0 4.7,0a2.35,2.35 0 1,0 -4.7,0M587.5,72.7a2.35,2.35 0 1,0 4.7,0a2.35,2.35 0 1,0 -4.7,0M593.4,77.8a2.35,2.35 0 1,0 4.7,0a2.35,2.35 0 1,0 -4.7,0M599.2,82.1a2.35,2.35 0 1,0 4.7,0a2.35,2.35 0 1,0 -4.7,0M605.1,85.6a2.35,2.35 0 1,0 4.7,0a2.35,2.35 0 1,0 -4.7,0M610.9,88.3a2.35,2.35 0 1,0 4.7,0a2.35,2.35 0 1,0 -4.7,0M616.8,90.4a2.35,2.35 0 1,0 4.7,0a2.35,2.35 0 1,0 -4.7,0M622.6,92a2.35,2.35 0 1,0 4.7,0a2.35,2.35 0 1,0 -4.7,0M628.5,93.1a2.35,2.35 0 1,0 4.7,0a2.35,2.35 0 1,0 -4.7,0M634.3,93.9a2.35,2.35 0 1,0 4.7,0a2.35,2.35 0 1,0 -4.7,0M640.2,94.5a2.35,2.35 0 1,0 4.7,0a2.35,2.35 0 1,0 -4.7,0M646,94.9a2.35,2.35 0 1,0 4.7,0a2.35,2.35 0 1,0 -4.7,0M651.9,95.2a2.35,2.35 0 1,0 4.7,0a2.35,2.35 0 1,0 -4.7,0M657.7,95.3a2.35,2.35 0 1,0 4.7,0a2.35,2.35 0 1,0 -4.7,0M663.6,95.5a2.35,2.35 0 1,0 4.7,0a2.35,2.35 0 1,0 -4.7,0M669.4,95.6a2.35,2.35 0 1,0 4.7,0a2.35,2.35 0 1,0 -4.7,0" fill="none" stroke="#ff0000" stroke-width="1.6"/>
</g>
<clipPath id="cb2"><rect x="380.3" y="100" width="291.6" height="95.8"/></clipPath>
<g clip-path="url(#cb2)">
<line x1="401" y1="192.3" x2="653" y2="191.6" stroke="#800080" stroke-width="1.3"/>
<polyline points="401.3,192.1 402.3,192.1 403.3,192 404.3,192 405.4,192 406.4,192 407.4,192 408.4,192 409.4,191.9 410.4,191.9 411.4,191.9 412.4,191.9 413.4,191.8 414.4,191.8 415.4,191.8 416.4,191.7 417.4,191.7 418.4,191.6 419.4,191.6 420.4,191.5 421.4,191.5 422.4,191.4 423.4,191.4 424.4,191.3 425.4,191.2 426.4,191.2 427.4,191.1 428.4,191 429.4,190.9 430.4,190.8 431.4,190.8 432.4,190.7 433.4,190.5 434.4,190.4 435.4,190.3 436.4,190.2 437.4,190.1 438.4,189.9 439.4,189.8 440.4,189.7 441.4,189.5 442.4,189.4 443.4,189.2 444.4,189 445.4,188.9 446.4,188.7 447.4,188.5 448.4,188.4 449.4,188.2 450.4,188 451.4,187.8 452.4,187.6 453.5,187.4 454.5,187.2 455.5,187 456.5,186.8 457.5,186.6 458.5,186.4 459.5,186.2 460.5,186 461.5,185.8 462.5,185.6 463.5,185.4 464.5,185.3 465.5,185.1 466.5,184.9 467.5,184.7 468.5,184.6 469.5,184.4 470.5,184.3 471.5,184.1 472.5,184 473.5,183.9 474.5,183.8 475.5,183.7 476.5,183.6 477.5,183.5 478.5,183.5 479.5,183.4 480.5,183.4 481.5,183.4 482.5,183.4 483.5,183.4 484.5,183.4 485.5,183.4 486.5,183.5 487.5,183.5 488.5,183.6 489.5,183.7 490.5,183.7 491.5,183.8 492.5,184 493.5,184.1 494.5,184.2 495.5,184.4 496.5,184.5 497.5,184.7 498.5,184.8 499.5,185 500.5,185.2 501.5,185.4 502.6,185.5 503.6,185.7 504.6,185.9 505.6,186.1 506.6,186.3 507.6,186.5 508.6,186.7 509.6,186.9 510.6,187.1 511.6,187.3 512.6,187.5 513.6,187.6 514.6,187.8 515.6,188 516.6,188.2 517.6,188.4 518.6,188.5 519.6,188.7 520.6,188.9 521.6,189 522.6,189.2 523.6,189.3 524.6,189.5 525.6,189.6 526.6,189.7 527.6,189.9 528.6,190 529.6,190.1 530.6,190.2 531.6,190.3 532.6,190.4 533.6,190.5 534.6,190.6 535.6,190.7 536.6,190.8 537.6,190.8 538.6,190.9 539.6,191 540.6,191 541.6,191.1 542.6,191.2 543.6,191.2 544.6,191.2 545.6,191.3 546.6,191.3 547.6,191.4 548.6,191.4 549.6,191.4 550.7,191.5 551.7,191.5 552.7,191.5 553.7,191.5 554.7,191.6 555.7,191.6 556.7,191.6 557.7,191.6 558.7,191.6 559.7,191.6 560.7,191.7 561.7,191.7 562.7,191.7 563.7,191.7 564.7,191.7 565.7,191.7 566.7,191.7 567.7,191.7 568.7,191.7 569.7,191.7 570.7,191.7 571.7,191.7 572.7,191.7 573.7,191.7 574.7,191.7 575.7,191.7" fill="none" stroke="#0a820a" stroke-width="1.7"/>
<polyline points="407.4,192.1 408.4,192.1 409.4,192.1 410.4,192.1 411.4,192.1 412.4,192.1 413.4,192 414.4,192 415.4,192 416.4,192 417.4,192 418.4,191.9 419.4,191.9 420.4,191.9 421.4,191.8 422.4,191.8 423.4,191.8 424.4,191.7 425.4,191.7 426.4,191.6 427.4,191.6 428.4,191.6 429.4,191.5 430.4,191.4 431.4,191.4 432.4,191.3 433.4,191.3 434.4,191.2 435.4,191.1 436.4,191 437.4,190.9 438.4,190.8 439.4,190.7 440.4,190.6 441.4,190.5 442.4,190.4 443.4,190.3 444.4,190.2 445.4,190 446.4,189.9 447.4,189.8 448.4,189.6 449.4,189.4 450.4,189.3 451.4,189.1 452.4,188.9 453.5,188.7 454.5,188.5 455.5,188.3 456.5,188.1 457.5,187.9 458.5,187.6 459.5,187.4 460.5,187.1 461.5,186.9 462.5,186.6 463.5,186.3 464.5,186 465.5,185.7 466.5,185.4 467.5,185.1 468.5,184.7 469.5,184.4 470.5,184.1 471.5,183.7 472.5,183.3 473.5,183 474.5,182.6 475.5,182.2 476.5,181.8 477.5,181.4 478.5,181 479.5,180.5 480.5,180.1 481.5,179.7 482.5,179.3 483.5,178.8 484.5,178.4 485.5,177.9 486.5,177.5 487.5,177 488.5,176.6 489.5,176.1 490.5,175.6 491.5,175.2 492.5,174.7 493.5,174.3 494.5,173.8 495.5,173.4 496.5,172.9 497.5,172.5 498.5,172.1 499.5,171.7 500.5,171.2 501.5,170.8 502.6,170.4 503.6,170.1 504.6,169.7 505.6,169.3 506.6,169 507.6,168.6 508.6,168.3 509.6,168 510.6,167.7 511.6,167.4 512.6,167.2 513.6,166.9 514.6,166.7 515.6,166.5 516.6,166.3 517.6,166.2 518.6,166 519.6,165.9 520.6,165.8 521.6,165.7 522.6,165.6 523.6,165.6 524.6,165.6 525.6,165.6 526.6,165.6 527.6,165.6 528.6,165.7 529.6,165.8 530.6,165.9 531.6,166 532.6,166.1 533.6,166.3 534.6,166.5 535.6,166.7 536.6,166.9 537.6,167.1 538.6,167.4 539.6,167.7 540.6,167.9 541.6,168.3 542.6,168.6 543.6,168.9 544.6,169.2 545.6,169.6 546.6,170 547.6,170.4 548.6,170.8 549.6,171.2 550.7,171.6 551.7,172 552.7,172.4 553.7,172.8 554.7,173.3 555.7,173.7 556.7,174.2 557.7,174.6 558.7,175.1 559.7,175.5 560.7,176 561.7,176.4 562.7,176.9 563.7,177.3 564.7,177.8 565.7,178.2 566.7,178.6 567.7,179.1 568.7,179.5 569.7,179.9 570.7,180.3 571.7,180.8 572.7,181.2 573.7,181.6 574.7,182 575.7,182.4 576.7,182.7 577.7,183.1 578.7,183.5 579.7,183.8 580.7,184.2 581.7,184.5 582.7,184.8 583.7,185.1 584.7,185.4 585.7,185.7 586.7,186 587.7,186.3 588.7,186.6 589.7,186.8 590.7,187.1 591.7,187.3 592.7,187.6 593.7,187.8 594.7,188 595.7,188.2 596.7,188.4 597.7,188.6 598.7,188.8 599.8,188.9 600.8,189.1 601.8,189.2 602.8,189.4 603.8,189.5 604.8,189.7 605.8,189.8 606.8,189.9 607.8,190 608.8,190.1 609.8,190.2 610.8,190.3 611.8,190.4 612.8,190.5 613.8,190.6 614.8,190.7 615.8,190.7 616.8,190.8 617.8,190.9 618.8,190.9 619.8,191 620.8,191 621.8,191.1 622.8,191.1 623.8,191.2 624.8,191.2 625.8,191.3 626.8,191.3 627.8,191.3 628.8,191.3 629.8,191.4 630.8,191.4 631.8,191.4 632.8,191.4 633.8,191.5 634.8,191.5 635.8,191.5 636.8,191.5 637.8,191.5 638.8,191.5 639.8,191.5 640.8,191.5 641.8,191.6 642.8,191.6" fill="none" stroke="#0000ff" stroke-width="1.7"/>
<polyline points="401.3,191.6 402.3,191.6 403.3,191.6 404.3,191.5 405.4,191.5 406.4,191.5 407.4,191.5 408.4,191.5 409.4,191.5 410.4,191.5 411.4,191.5 412.4,191.4 413.4,191.4 414.4,191.4 415.4,191.4 416.4,191.4 417.4,191.4 418.4,191.4 419.4,191.4 420.4,191.3 421.4,191.3 422.4,191.3 423.4,191.3 424.4,191.3 425.4,191.3 426.4,191.3 427.4,191.2 428.4,191.2 429.4,191.2 430.4,191.2 431.4,191.2 432.4,191.2 433.4,191.1 434.4,191.1 435.4,191.1 436.4,191.1 437.4,191.1 438.4,191 439.4,191 440.4,191 441.4,191 442.4,191 443.4,190.9 444.4,190.9 445.4,190.9 446.4,190.9 447.4,190.8 448.4,190.8 449.4,190.8 450.4,190.8 451.4,190.7 452.4,190.7 453.5,190.7 454.5,190.7 455.5,190.6 456.5,190.6 457.5,190.6 458.5,190.5 459.5,190.5 460.5,190.4 461.5,190.4 462.5,190.4 463.5,190.3 464.5,190.3 465.5,190.2 466.5,190.2 467.5,190.1 468.5,190.1 469.5,190 470.5,190 471.5,189.9 472.5,189.8 473.5,189.8 474.5,189.7 475.5,189.6 476.5,189.5 477.5,189.4 478.5,189.3 479.5,189.2 480.5,189.1 481.5,189 482.5,188.9 483.5,188.8 484.5,188.6 485.5,188.5 486.5,188.4 487.5,188.2 488.5,188 489.5,187.8 490.5,187.7 491.5,187.5 492.5,187.2 493.5,187 494.5,186.8 495.5,186.5 496.5,186.3 497.5,186 498.5,185.7 499.5,185.4 500.5,185.1 501.5,184.7 502.6,184.4 503.6,184 504.6,183.6 505.6,183.2 506.6,182.7 507.6,182.3 508.6,181.8 509.6,181.3 510.6,180.8 511.6,180.3 512.6,179.7 513.6,179.1 514.6,178.5 515.6,177.9 516.6,177.3 517.6,176.6 518.6,175.9 519.6,175.2 520.6,174.5 521.6,173.7 522.6,173 523.6,172.2 524.6,171.4 525.6,170.5 526.6,169.7 527.6,168.9 528.6,168 529.6,167.1 530.6,166.2 531.6,165.3 532.6,164.4 533.6,163.5 534.6,162.6 535.6,161.7 536.6,160.7 537.6,159.8 538.6,158.9 539.6,158 540.6,157.1 541.6,156.2 542.6,155.3 543.6,154.5 544.6,153.7 545.6,152.8 546.6,152.1 547.6,151.3 548.6,150.6 549.6,149.9 550.7,149.3 551.7,148.7 552.7,148.2 553.7,147.7 554.7,147.3 555.7,146.9 556.7,146.6 557.7,146.3 558.7,146.1 559.7,146 560.7,145.9 561.7,145.9 562.7,146 563.7,146.1 564.7,146.3 565.7,146.6 566.7,146.9 567.7,147.2 568.7,147.7 569.7,148.2 570.7,148.7 571.7,149.3 572.7,149.9 573.7,150.6 574.7,151.3 575.7,152 576.7,152.8 577.7,153.6 578.7,154.4 579.7,155.3 580.7,156.1 581.7,157 582.7,157.9 583.7,158.8 584.7,159.7 585.7,160.6 586.7,161.5 587.7,162.5 588.7,163.4 589.7,164.3 590.7,165.2 591.7,166.1 592.7,167 593.7,167.8 594.7,168.7 595.7,169.6 596.7,170.4 597.7,171.2 598.7,172 599.8,172.8 600.8,173.5 601.8,174.3 602.8,175 603.8,175.7 604.8,176.4 605.8,177.1 606.8,177.7 607.8,178.3 608.8,178.9 609.8,179.5 610.8,180 611.8,180.6 612.8,181.1 613.8,181.6 614.8,182 615.8,182.5 616.8,182.9 617.8,183.3 618.8,183.7 619.8,184.1 620.8,184.4 621.8,184.8 622.8,185.1 623.8,185.4 624.8,185.7 625.8,186 626.8,186.2 627.8,186.5 628.8,186.7 629.8,186.9 630.8,187.1 631.8,187.3 632.8,187.5 633.8,187.7 634.8,187.8 635.8,188 636.8,188.1 637.8,188.3 638.8,188.4 639.8,188.5 640.8,188.6 641.8,188.7 642.8,188.8 643.8,188.9 644.8,189 645.8,189.1 646.8,189.2 647.9,189.3 648.9,189.3 649.9,189.4 650.9,189.5 651.9,189.5 652.9,189.6" fill="none" stroke="#111111" stroke-width="1.7"/>
<polyline points="380.3,192 381.3,192 382.3,192 383.3,191.9 384.3,191.9 385.3,191.9 386.3,191.9 387.3,191.8 388.3,191.8 389.3,191.8 390.3,191.8 391.3,191.7 392.3,191.7 393.3,191.7 394.3,191.6 395.3,191.6 396.3,191.5 397.3,191.5 398.3,191.5 399.3,191.4 400.3,191.4 401.3,191.3 402.3,191.3 403.3,191.2 404.3,191.2 405.4,191.1 406.4,191 407.4,191 408.4,190.9 409.4,190.8 410.4,190.8 411.4,190.7 412.4,190.6 413.4,190.5 414.4,190.4 415.4,190.3 416.4,190.2 417.4,190.1 418.4,190 419.4,189.9 420.4,189.8 421.4,189.7 422.4,189.6 423.4,189.5 424.4,189.3 425.4,189.2 426.4,189.1 427.4,188.9 428.4,188.8 429.4,188.6 430.4,188.4 431.4,188.3 432.4,188.1 433.4,187.9 434.4,187.8 435.4,187.6 436.4,187.4 437.4,187.2 438.4,187 439.4,186.8 440.4,186.5 441.4,186.3 442.4,186.1 443.4,185.9 444.4,185.6 445.4,185.4 446.4,185.1 447.4,184.9 448.4,184.6 449.4,184.3 450.4,184 451.4,183.8 452.4,183.5 453.5,183.2 454.5,182.9 455.5,182.6 456.5,182.3 457.5,181.9 458.5,181.6 459.5,181.3 460.5,181 461.5,180.6 462.5,180.3 463.5,179.9 464.5,179.6 465.5,179.2 466.5,178.8 467.5,178.5 468.5,178.1 469.5,177.7 470.5,177.3 471.5,176.9 472.5,176.5 473.5,176.1 474.5,175.7 475.5,175.3 476.5,174.8 477.5,174.4 478.5,174 479.5,173.5 480.5,173.1 481.5,172.6 482.5,172.1 483.5,171.7 484.5,171.2 485.5,170.7 486.5,170.2 487.5,169.7 488.5,169.2 489.5,168.7 490.5,168.1 491.5,167.6 492.5,167.1 493.5,166.5 494.5,165.9 495.5,165.3 496.5,164.7 497.5,164.1 498.5,163.5 499.5,162.9 500.5,162.2 501.5,161.5 502.6,160.8 503.6,160.1 504.6,159.4 505.6,158.7 506.6,157.9 507.6,157.2 508.6,156.4 509.6,155.6 510.6,154.8 511.6,153.9 512.6,153.1 513.6,152.2 514.6,151.4 515.6,150.5 516.6,149.6 517.6,148.7 518.6,147.8 519.6,146.8 520.6,145.9 521.6,145 522.6,144.1 523.6,143.2 524.6,142.3 525.6,141.4 526.6,140.5 527.6,139.6 528.6,138.7 529.6,137.9 530.6,137 531.6,136.2 532.6,135.5 533.6,134.7 534.6,134 535.6,133.3 536.6,132.6 537.6,132 538.6,131.4 539.6,130.9 540.6,130.4 541.6,129.9 542.6,129.5 543.6,129.1 544.6,128.8 545.6,128.5 546.6,128.3 547.6,128.1 548.6,128 549.6,127.9 550.7,127.8 551.7,127.9 552.7,127.9 553.7,128.1 554.7,128.3 555.7,128.5 556.7,128.8 557.7,129.2 558.7,129.6 559.7,130.1 560.7,130.6 561.7,131.2 562.7,131.8 563.7,132.5 564.7,133.3 565.7,134 566.7,134.9 567.7,135.8 568.7,136.7 569.7,137.7 570.7,138.7 571.7,139.7 572.7,140.8 573.7,141.9 574.7,143 575.7,144.2 576.7,145.3 577.7,146.5 578.7,147.7 579.7,149 580.7,150.2 581.7,151.4 582.7,152.7 583.7,153.9 584.7,155.2 585.7,156.4 586.7,157.6 587.7,158.9 588.7,160.1 589.7,161.3 590.7,162.5 591.7,163.6 592.7,164.8 593.7,165.9 594.7,167 595.7,168.1 596.7,169.2 597.7,170.2 598.7,171.2 599.8,172.2 600.8,173.2 601.8,174.1 602.8,175 603.8,175.8 604.8,176.7 605.8,177.5 606.8,178.3 607.8,179 608.8,179.7 609.8,180.4 610.8,181.1 611.8,181.7 612.8,182.3 613.8,182.8 614.8,183.4 615.8,183.9 616.8,184.4 617.8,184.9 618.8,185.3 619.8,185.7 620.8,186.1 621.8,186.5 622.8,186.8 623.8,187.1 624.8,187.4 625.8,187.7 626.8,188 627.8,188.3 628.8,188.5 629.8,188.7 630.8,188.9 631.8,189.1 632.8,189.3 633.8,189.5 634.8,189.6 635.8,189.8 636.8,189.9 637.8,190 638.8,190.1 639.8,190.2 640.8,190.3 641.8,190.4 642.8,190.5 643.8,190.6 644.8,190.7 645.8,190.7 646.8,190.8 647.9,190.9 648.9,190.9 649.9,191 650.9,191 651.9,191 652.9,191.1 653.9,191.1 654.9,191.2 655.9,191.2 656.9,191.2 657.9,191.2 658.9,191.3 659.9,191.3 660.9,191.3 661.9,191.3 662.9,191.3 663.9,191.4 664.9,191.4 665.9,191.4 666.9,191.4 667.9,191.4 668.9,191.4 669.9,191.5 670.9,191.5 671.9,191.5" fill="none" stroke="#ff0000" stroke-width="1.5"/>
<path d="M376.9,192a2.35,2.35 0 1,0 4.7,0a2.35,2.35 0 1,0 -4.7,0M382.8,191.9a2.35,2.35 0 1,0 4.7,0a2.35,2.35 0 1,0 -4.7,0M388.6,191.7a2.35,2.35 0 1,0 4.7,0a2.35,2.35 0 1,0 -4.7,0M394.5,191.5a2.35,2.35 0 1,0 4.7,0a2.35,2.35 0 1,0 -4.7,0M400.3,191.2a2.35,2.35 0 1,0 4.7,0a2.35,2.35 0 1,0 -4.7,0M406.2,190.9a2.35,2.35 0 1,0 4.7,0a2.35,2.35 0 1,0 -4.7,0M412,190.4a2.35,2.35 0 1,0 4.7,0a2.35,2.35 0 1,0 -4.7,0M417.9,189.8a2.35,2.35 0 1,0 4.7,0a2.35,2.35 0 1,0 -4.7,0M423.7,189.1a2.35,2.35 0 1,0 4.7,0a2.35,2.35 0 1,0 -4.7,0M429.6,188.2a2.35,2.35 0 1,0 4.7,0a2.35,2.35 0 1,0 -4.7,0M435.4,187.1a2.35,2.35 0 1,0 4.7,0a2.35,2.35 0 1,0 -4.7,0M441.3,185.8a2.35,2.35 0 1,0 4.7,0a2.35,2.35 0 1,0 -4.7,0M447.1,184.3a2.35,2.35 0 1,0 4.7,0a2.35,2.35 0 1,0 -4.7,0M453,182.6a2.35,2.35 0 1,0 4.7,0a2.35,2.35 0 1,0 -4.7,0M458.8,180.7a2.35,2.35 0 1,0 4.7,0a2.35,2.35 0 1,0 -4.7,0M464.7,178.6a2.35,2.35 0 1,0 4.7,0a2.35,2.35 0 1,0 -4.7,0M470.5,176.3a2.35,2.35 0 1,0 4.7,0a2.35,2.35 0 1,0 -4.7,0M476.4,173.9a2.35,2.35 0 1,0 4.7,0a2.35,2.35 0 1,0 -4.7,0M482.2,171.2a2.35,2.35 0 1,0 4.7,0a2.35,2.35 0 1,0 -4.7,0M488.1,168.2a2.35,2.35 0 1,0 4.7,0a2.35,2.35 0 1,0 -4.7,0M493.9,164.9a2.35,2.35 0 1,0 4.7,0a2.35,2.35 0 1,0 -4.7,0M499.8,161.1a2.35,2.35 0 1,0 4.7,0a2.35,2.35 0 1,0 -4.7,0M505.6,156.8a2.35,2.35 0 1,0 4.7,0a2.35,2.35 0 1,0 -4.7,0M511.5,152a2.35,2.35 0 1,0 4.7,0a2.35,2.35 0 1,0 -4.7,0M517.3,146.8a2.35,2.35 0 1,0 4.7,0a2.35,2.35 0 1,0 -4.7,0M523.2,141.4a2.35,2.35 0 1,0 4.7,0a2.35,2.35 0 1,0 -4.7,0M529,136.4a2.35,2.35 0 1,0 4.7,0a2.35,2.35 0 1,0 -4.7,0M534.9,132.3a2.35,2.35 0 1,0 4.7,0a2.35,2.35 0 1,0 -4.7,0M540.7,129.3a2.35,2.35 0 1,0 4.7,0a2.35,2.35 0 1,0 -4.7,0M546.6,127.9a2.35,2.35 0 1,0 4.7,0a2.35,2.35 0 1,0 -4.7,0M552.4,128.3a2.35,2.35 0 1,0 4.7,0a2.35,2.35 0 1,0 -4.7,0M558.3,130.6a2.35,2.35 0 1,0 4.7,0a2.35,2.35 0 1,0 -4.7,0M564.1,134.7a2.35,2.35 0 1,0 4.7,0a2.35,2.35 0 1,0 -4.7,0M570,140.4a2.35,2.35 0 1,0 4.7,0a2.35,2.35 0 1,0 -4.7,0M575.8,147.1a2.35,2.35 0 1,0 4.7,0a2.35,2.35 0 1,0 -4.7,0M581.7,154.3a2.35,2.35 0 1,0 4.7,0a2.35,2.35 0 1,0 -4.7,0M587.5,161.4a2.35,2.35 0 1,0 4.7,0a2.35,2.35 0 1,0 -4.7,0M593.4,168.1a2.35,2.35 0 1,0 4.7,0a2.35,2.35 0 1,0 -4.7,0M599.2,173.9a2.35,2.35 0 1,0 4.7,0a2.35,2.35 0 1,0 -4.7,0M605.1,178.7a2.35,2.35 0 1,0 4.7,0a2.35,2.35 0 1,0 -4.7,0M610.9,182.6a2.35,2.35 0 1,0 4.7,0a2.35,2.35 0 1,0 -4.7,0M616.8,185.4a2.35,2.35 0 1,0 4.7,0a2.35,2.35 0 1,0 -4.7,0M622.6,187.5a2.35,2.35 0 1,0 4.7,0a2.35,2.35 0 1,0 -4.7,0M628.5,188.9a2.35,2.35 0 1,0 4.7,0a2.35,2.35 0 1,0 -4.7,0M634.3,189.9a2.35,2.35 0 1,0 4.7,0a2.35,2.35 0 1,0 -4.7,0M640.2,190.5a2.35,2.35 0 1,0 4.7,0a2.35,2.35 0 1,0 -4.7,0M646,190.9a2.35,2.35 0 1,0 4.7,0a2.35,2.35 0 1,0 -4.7,0M651.9,191.1a2.35,2.35 0 1,0 4.7,0a2.35,2.35 0 1,0 -4.7,0M657.7,191.3a2.35,2.35 0 1,0 4.7,0a2.35,2.35 0 1,0 -4.7,0M663.6,191.4a2.35,2.35 0 1,0 4.7,0a2.35,2.35 0 1,0 -4.7,0M669.4,191.5a2.35,2.35 0 1,0 4.7,0a2.35,2.35 0 1,0 -4.7,0" fill="none" stroke="#ff0000" stroke-width="1.6"/>
</g>
<line x1="108.6" y1="5.7" x2="108.6" y2="195.9" stroke="#0a820a" stroke-width="1.6" stroke-dasharray="1.6 1.6"/>
<line x1="116.7" y1="5.7" x2="116.7" y2="195.9" stroke="#0000ff" stroke-width="1.6" stroke-dasharray="1.6 1.6"/>
<line x1="136.1" y1="5.7" x2="136.1" y2="195.9" stroke="#111111" stroke-width="1.6" stroke-dasharray="1.6 1.6"/>
<line x1="230.6" y1="5.7" x2="230.6" y2="195.9" stroke="#0a820a" stroke-width="1.6" stroke-dasharray="1.6 1.6"/>
<line x1="239.5" y1="5.7" x2="239.5" y2="195.9" stroke="#0000ff" stroke-width="1.6" stroke-dasharray="1.6 1.6"/>
<line x1="260" y1="5.7" x2="260" y2="195.9" stroke="#111111" stroke-width="1.6" stroke-dasharray="1.6 1.6"/>
<line x1="485.8" y1="5.7" x2="485.8" y2="194.8" stroke="#0a820a" stroke-width="1.6" stroke-dasharray="1.6 1.6"/>
<line x1="525.9" y1="5.7" x2="525.9" y2="194.8" stroke="#0000ff" stroke-width="1.6" stroke-dasharray="1.6 1.6"/>
<line x1="560.9" y1="5.7" x2="560.9" y2="194.8" stroke="#111111" stroke-width="1.6" stroke-dasharray="1.6 1.6"/>
<line x1="34.6" y1="100.8" x2="34.6" y2="96" stroke="#000" stroke-width="1.2"/>
<line x1="107.8" y1="100.8" x2="107.8" y2="96" stroke="#000" stroke-width="1.2"/>
<line x1="180.9" y1="100.8" x2="180.9" y2="96" stroke="#000" stroke-width="1.2"/>
<line x1="254.1" y1="100.8" x2="254.1" y2="96" stroke="#000" stroke-width="1.2"/>
<line x1="327.2" y1="100.8" x2="327.2" y2="96" stroke="#000" stroke-width="1.2"/>
<line x1="71.2" y1="100.8" x2="71.2" y2="98.2" stroke="#000" stroke-width="1.2"/>
<line x1="144.3" y1="100.8" x2="144.3" y2="98.2" stroke="#000" stroke-width="1.2"/>
<line x1="217.5" y1="100.8" x2="217.5" y2="98.2" stroke="#000" stroke-width="1.2"/>
<line x1="290.7" y1="100.8" x2="290.7" y2="98.2" stroke="#000" stroke-width="1.2"/>
<line x1="34.6" y1="196.9" x2="34.6" y2="192.1" stroke="#000" stroke-width="1.2"/>
<line x1="107.8" y1="196.9" x2="107.8" y2="192.1" stroke="#000" stroke-width="1.2"/>
<line x1="180.9" y1="196.9" x2="180.9" y2="192.1" stroke="#000" stroke-width="1.2"/>
<line x1="254.1" y1="196.9" x2="254.1" y2="192.1" stroke="#000" stroke-width="1.2"/>
<line x1="327.2" y1="196.9" x2="327.2" y2="192.1" stroke="#000" stroke-width="1.2"/>
<line x1="71.2" y1="196.9" x2="71.2" y2="194.3" stroke="#000" stroke-width="1.2"/>
<line x1="144.3" y1="196.9" x2="144.3" y2="194.3" stroke="#000" stroke-width="1.2"/>
<line x1="217.5" y1="196.9" x2="217.5" y2="194.3" stroke="#000" stroke-width="1.2"/>
<line x1="290.7" y1="196.9" x2="290.7" y2="194.3" stroke="#000" stroke-width="1.2"/>
<rect x="34.6" y="4.7" width="292.6" height="192.2" fill="none" stroke="#000" stroke-width="1.6"/>
<line x1="34.6" y1="100.8" x2="327.2" y2="100.8" stroke="#000" stroke-width="1.6"/>
<line x1="380.3" y1="100" x2="380.3" y2="96.8" stroke="#000" stroke-width="1.2"/>
<line x1="416.8" y1="100" x2="416.8" y2="96.8" stroke="#000" stroke-width="1.2"/>
<line x1="453.2" y1="100" x2="453.2" y2="96.8" stroke="#000" stroke-width="1.2"/>
<line x1="489.6" y1="100" x2="489.6" y2="96.8" stroke="#000" stroke-width="1.2"/>
<line x1="526.1" y1="100" x2="526.1" y2="96.8" stroke="#000" stroke-width="1.2"/>
<line x1="562.5" y1="100" x2="562.5" y2="96.8" stroke="#000" stroke-width="1.2"/>
<line x1="599" y1="100" x2="599" y2="96.8" stroke="#000" stroke-width="1.2"/>
<line x1="635.5" y1="100" x2="635.5" y2="96.8" stroke="#000" stroke-width="1.2"/>
<line x1="671.9" y1="100" x2="671.9" y2="96.8" stroke="#000" stroke-width="1.2"/>
<line x1="398.5" y1="100" x2="398.5" y2="98.2" stroke="#000" stroke-width="1.2"/>
<line x1="435" y1="100" x2="435" y2="98.2" stroke="#000" stroke-width="1.2"/>
<line x1="471.4" y1="100" x2="471.4" y2="98.2" stroke="#000" stroke-width="1.2"/>
<line x1="507.9" y1="100" x2="507.9" y2="98.2" stroke="#000" stroke-width="1.2"/>
<line x1="544.3" y1="100" x2="544.3" y2="98.2" stroke="#000" stroke-width="1.2"/>
<line x1="580.8" y1="100" x2="580.8" y2="98.2" stroke="#000" stroke-width="1.2"/>
<line x1="617.2" y1="100" x2="617.2" y2="98.2" stroke="#000" stroke-width="1.2"/>
<line x1="653.7" y1="100" x2="653.7" y2="98.2" stroke="#000" stroke-width="1.2"/>
<line x1="380.3" y1="195.8" x2="380.3" y2="192.6" stroke="#000" stroke-width="1.2"/>
<line x1="416.8" y1="195.8" x2="416.8" y2="192.6" stroke="#000" stroke-width="1.2"/>
<line x1="453.2" y1="195.8" x2="453.2" y2="192.6" stroke="#000" stroke-width="1.2"/>
<line x1="489.6" y1="195.8" x2="489.6" y2="192.6" stroke="#000" stroke-width="1.2"/>
<line x1="526.1" y1="195.8" x2="526.1" y2="192.6" stroke="#000" stroke-width="1.2"/>
<line x1="562.5" y1="195.8" x2="562.5" y2="192.6" stroke="#000" stroke-width="1.2"/>
<line x1="599" y1="195.8" x2="599" y2="192.6" stroke="#000" stroke-width="1.2"/>
<line x1="635.5" y1="195.8" x2="635.5" y2="192.6" stroke="#000" stroke-width="1.2"/>
<line x1="671.9" y1="195.8" x2="671.9" y2="192.6" stroke="#000" stroke-width="1.2"/>
<line x1="398.5" y1="195.8" x2="398.5" y2="194" stroke="#000" stroke-width="1.2"/>
<line x1="435" y1="195.8" x2="435" y2="194" stroke="#000" stroke-width="1.2"/>
<line x1="471.4" y1="195.8" x2="471.4" y2="194" stroke="#000" stroke-width="1.2"/>
<line x1="507.9" y1="195.8" x2="507.9" y2="194" stroke="#000" stroke-width="1.2"/>
<line x1="544.3" y1="195.8" x2="544.3" y2="194" stroke="#000" stroke-width="1.2"/>
<line x1="580.8" y1="195.8" x2="580.8" y2="194" stroke="#000" stroke-width="1.2"/>
<line x1="617.2" y1="195.8" x2="617.2" y2="194" stroke="#000" stroke-width="1.2"/>
<line x1="653.7" y1="195.8" x2="653.7" y2="194" stroke="#000" stroke-width="1.2"/>
<rect x="380.3" y="4.7" width="291.6" height="191.1" fill="none" stroke="#000" stroke-width="1.6"/>
<line x1="380.3" y1="100" x2="671.9" y2="100" stroke="#000" stroke-width="1.6"/>
<text transform="translate(34.6,212.5) scale(1.1,1)" font-size="14" text-anchor="middle">500</text>
<text transform="translate(107.8,212.5) scale(1.1,1)" font-size="14" text-anchor="middle">495</text>
<text transform="translate(180.9,212.5) scale(1.1,1)" font-size="14" text-anchor="middle">490</text>
<text transform="translate(254.1,212.5) scale(1.1,1)" font-size="14" text-anchor="middle">485</text>
<text transform="translate(327.2,212.5) scale(1.1,1)" font-size="14" text-anchor="middle">480</text>
<text x="380.3" y="212.4" font-size="15.5" fill="#000" text-anchor="middle">535</text>
<text x="416.8" y="212.4" font-size="15.5" fill="#000" text-anchor="middle">534</text>
<text x="453.2" y="212.4" font-size="15.5" fill="#000" text-anchor="middle">533</text>
<text x="489.6" y="212.4" font-size="15.5" fill="#000" text-anchor="middle">532</text>
<text x="526.1" y="212.4" font-size="15.5" fill="#000" text-anchor="middle">531</text>
<text x="562.5" y="212.4" font-size="15.5" fill="#000" text-anchor="middle">530</text>
<text x="599" y="212.4" font-size="15.5" fill="#000" text-anchor="middle">529</text>
<text x="635.5" y="212.4" font-size="15.5" fill="#000" text-anchor="middle">528</text>
<text x="671.9" y="212.4" font-size="15.5" fill="#000" text-anchor="middle">527</text>
<text transform="translate(184,236.4) scale(1.095,1)" font-size="21" text-anchor="middle">Binding Energy (eV)</text>
<text x="527.5" y="241.8" font-size="26.7" fill="#000" text-anchor="middle">Binding Energy (eV)</text>
<text transform="translate(16.9,102.4) rotate(-90) scale(1.07,1)" font-size="21.3" text-anchor="middle">Intensity (a.u.)</text>
<text transform="translate(366.4,102.5) rotate(-90) scale(1.07,1)" font-size="21.3" text-anchor="middle">Intensity (a.u.)</text>
<text x="-0.3" y="12.9" font-size="19.5" style="font-family:'Liberation Serif',serif">(a)</text>
<text x="347.6" y="12.9" font-size="19.5" style="font-family:'Liberation Serif',serif">(b)</text>
<text x="38" y="17" font-size="10.8" fill="#000" text-anchor="start">SnO TFT</text>
<text x="38" y="29.8" font-size="10.8" fill="#000" text-anchor="start">(No Anneal)</text>
<text x="38" y="113" font-size="10.8" fill="#000" text-anchor="start">SnO TFT</text>
<text x="38" y="125.5" font-size="10.8" fill="#000" text-anchor="start">(Anneal)</text>
<text x="384.5" y="17" font-size="10.8" fill="#000" text-anchor="start">IGZO TFT</text>
<text x="384.5" y="29.8" font-size="10.8" fill="#000" text-anchor="start">(No Anneal)</text>
<text x="384.5" y="112.5" font-size="10.8" fill="#000" text-anchor="start">IGZO TFT</text>
<text x="384.5" y="123.5" font-size="10.8" fill="#000" text-anchor="start">(Anneal)</text>
<text x="90.3" y="14.7" font-size="8.5" fill="#0a820a" text-anchor="start">Sn<tspan font-size="5.6" dy="-3.2">4</tspan><tspan font-size="4.6" dy="-0.3">+</tspan></text>
<text x="119" y="14.7" font-size="8.5" fill="#0000ff" text-anchor="start">Sn<tspan font-size="5.6" dy="-3.2">2</tspan><tspan font-size="4.6" dy="-0.3">+</tspan></text>
<text x="138.5" y="14.7" font-size="8.5" fill="#111111" text-anchor="start">Sn<tspan font-size="5.6" dy="-3.2">0</tspan></text>
<text x="211.6" y="14.7" font-size="8.5" fill="#0a820a" text-anchor="start">Sn<tspan font-size="5.6" dy="-3.2">4</tspan><tspan font-size="4.6" dy="-0.3">+</tspan></text>
<text x="242.3" y="14.7" font-size="8.5" fill="#0000ff" text-anchor="start">Sn<tspan font-size="5.6" dy="-3.2">2</tspan><tspan font-size="4.6" dy="-0.3">+</tspan></text>
<text x="263" y="14.7" font-size="8.5" fill="#111111" text-anchor="start">Sn<tspan font-size="5.6" dy="-3.2">0</tspan></text>
<text x="274.7" y="49.7" font-size="8.5" fill="#111111" text-anchor="start">Sn<tspan font-size="5.6" dy="-3.2">0</tspan></text>
<text x="294.6" y="49.7" font-size="8.5" fill="#111111" text-anchor="start">15.25%</text>
<text x="274.7" y="64.9" font-size="8.5" fill="#0000ff" text-anchor="start">Sn<tspan font-size="5.6" dy="-3.2">2</tspan><tspan font-size="4.6" dy="-0.3">+</tspan></text>
<text x="294.6" y="64.9" font-size="8.5" fill="#0000ff" text-anchor="start">61.28%</text>
<text x="274.7" y="80" font-size="8.5" fill="#0a820a" text-anchor="start">Sn<tspan font-size="5.6" dy="-3.2">4</tspan><tspan font-size="4.6" dy="-0.3">+</tspan></text>
<text x="294.6" y="80" font-size="8.5" fill="#0a820a" text-anchor="start">23.47%</text>
<text x="274.7" y="149.6" font-size="8.5" fill="#111111" text-anchor="start">Sn<tspan font-size="5.6" dy="-3.2">0</tspan></text>
<text x="294.6" y="149.6" font-size="8.5" fill="#111111" text-anchor="start">7.21%</text>
<text x="274.7" y="164.8" font-size="8.5" fill="#0000ff" text-anchor="start">Sn<tspan font-size="5.6" dy="-3.2">2</tspan><tspan font-size="4.6" dy="-0.3">+</tspan></text>
<text x="294.6" y="164.8" font-size="8.5" fill="#0000ff" text-anchor="start">36.29%</text>
<text x="274.7" y="180" font-size="8.5" fill="#0a820a" text-anchor="start">Sn<tspan font-size="5.6" dy="-3.2">4</tspan><tspan font-size="4.6" dy="-0.3">+</tspan></text>
<text x="294.6" y="180" font-size="8.5" fill="#0a820a" text-anchor="start">56.50%</text>
<text x="489.6" y="16" font-size="8.5" fill="#0a820a" text-anchor="start">M-OH</text>
<text x="529" y="16" font-size="8.5" fill="#0000ff">M-O<tspan font-size="5.6" dy="1.8">vac</tspan></text>
<text x="564.6" y="16" font-size="8.5" fill="#111111" text-anchor="start">M-O</text>
<text x="599.4" y="18.4" font-size="9.7" fill="#111111" text-anchor="start">M-O</text>
<text x="633.8" y="18.4" font-size="9.7" fill="#111111" text-anchor="start">44.86%</text>
<text x="599.4" y="35.5" font-size="9.7" fill="#0000ff">M-O<tspan font-size="6.3" dy="1.6">vac</tspan></text>
<text x="633.8" y="35.5" font-size="9.7" fill="#0000ff" text-anchor="start">40.24%</text>
<text x="599.4" y="52.9" font-size="9.7" fill="#0a820a" text-anchor="start">M-OH</text>
<text x="633.8" y="52.9" font-size="9.7" fill="#0a820a" text-anchor="start">14.90%</text>
<text x="599.4" y="114.4" font-size="9.7" fill="#111111" text-anchor="start">M-O</text>
<text x="633.8" y="114.4" font-size="9.7" fill="#111111" text-anchor="start">55.00%</text>
<text x="599.4" y="131.7" font-size="9.7" fill="#0000ff">M-O<tspan font-size="6.3" dy="1.6">vac</tspan></text>
<text x="633.8" y="131.7" font-size="9.7" fill="#0000ff" text-anchor="start">35.02%</text>
<text x="599.4" y="148.9" font-size="9.7" fill="#0a820a" text-anchor="start">M-OH</text>
<text x="633.8" y="148.9" font-size="9.7" fill="#0a820a" text-anchor="start">9.98%</text>
</svg>
</body></html>
